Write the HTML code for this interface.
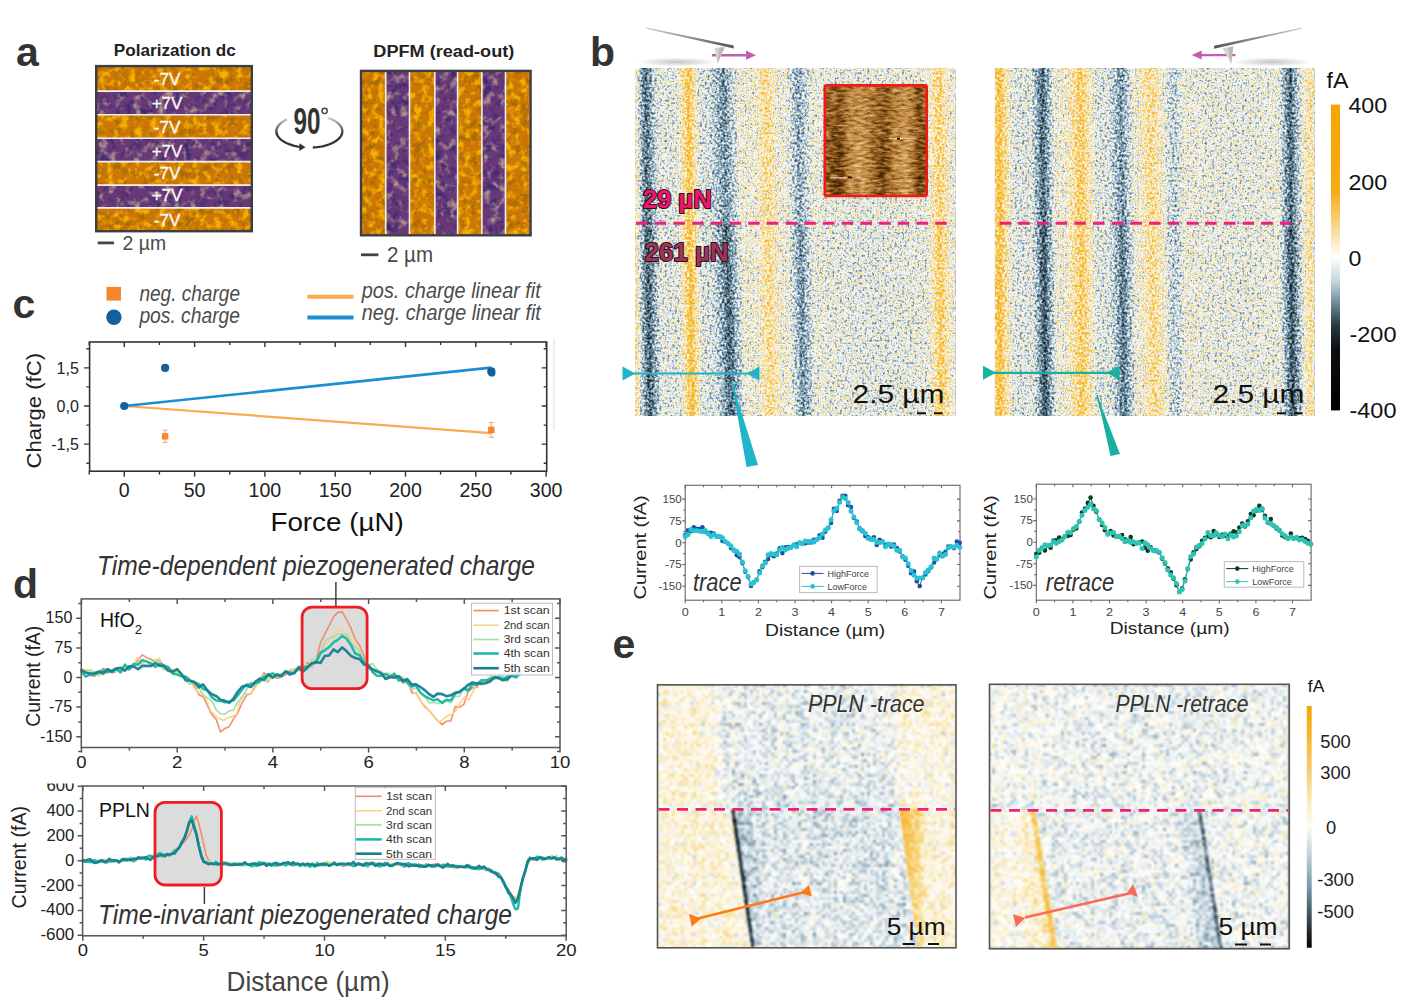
<!DOCTYPE html>
<html><head><meta charset="utf-8"><title>Figure</title>
<style>
html,body{margin:0;padding:0;background:#fff;}
body{width:1409px;height:1008px;overflow:hidden;}
svg{display:block;font-family:"Liberation Sans", sans-serif;}
</style></head><body>
<svg width="1409" height="1008" viewBox="0 0 1409 1008">
<defs>
<filter id="motO" x="0" y="0" width="100%" height="100%" color-interpolation-filters="sRGB">
 <feTurbulence type="fractalNoise" baseFrequency="0.14" numOctaves="4" seed="4" result="t"/>
 <feColorMatrix in="t" type="matrix" values="0 0 0 0 0.97  0 0 0 0 0.69  0 0 0 0 0.0  3.6 0 0 0 -1.68" result="hi"/>
 <feColorMatrix in="t" type="matrix" values="0 0 0 0 0.63  0 0 0 0 0.42  0 0 0 0 0.02  0 3.6 0 0 -1.7" result="lo"/>
 <feMerge><feMergeNode in="lo"/><feMergeNode in="hi"/></feMerge>
</filter>
<filter id="motP" x="0" y="0" width="100%" height="100%" color-interpolation-filters="sRGB">
 <feTurbulence type="fractalNoise" baseFrequency="0.12" numOctaves="4" seed="9" result="t"/>
 <feColorMatrix in="t" type="matrix" values="0 0 0 0 0.68  0 0 0 0 0.57  0 0 0 0 0.56  3.4 0 0 0 -1.72" result="hi"/>
 <feColorMatrix in="t" type="matrix" values="0 0 0 0 0.24  0 0 0 0 0.16  0 0 0 0 0.44  0 3.4 0 0 -1.62" result="lo"/>
 <feMerge><feMergeNode in="lo"/><feMergeNode in="hi"/></feMerge>
</filter>
<linearGradient id="arcg" gradientUnits="userSpaceOnUse" x1="0" y1="116" x2="0" y2="134">
<stop offset="0" stop-color="#333" stop-opacity="0.15"/><stop offset="1" stop-color="#333" stop-opacity="1"/></linearGradient>
<filter id="fldB" x="0" y="0" width="100%" height="100%" color-interpolation-filters="sRGB">
 <feTurbulence type="fractalNoise" baseFrequency="0.4" numOctaves="2" seed="3" result="t"/>
 <feColorMatrix in="t" type="matrix" values="1 0 0 0 0  1 0 0 0 0  1 0 0 0 0  0 0 0 0 1" result="tg"/>
 <feComposite in="SourceGraphic" in2="tg" operator="arithmetic" k1="0" k2="1" k3="0.52" k4="-0.2600" result="v"/>
 <feComponentTransfer in="v"><feFuncR type="table" tableValues="0.000 0.018 0.037 0.055 0.076 0.110 0.145 0.179 0.242 0.306 0.379 0.463 0.551 0.663 0.775 0.880 0.984 0.982 0.980 0.977 0.973 0.970 0.968 0.965 0.964 0.964 0.963 0.963 0.963 0.962 0.962 0.961 0.961"/><feFuncG type="table" tableValues="0.000 0.027 0.053 0.080 0.110 0.159 0.208 0.257 0.338 0.421 0.504 0.588 0.672 0.756 0.840 0.913 0.984 0.941 0.898 0.853 0.807 0.769 0.732 0.696 0.688 0.682 0.676 0.670 0.664 0.658 0.651 0.645 0.639"/><feFuncB type="table" tableValues="0.000 0.031 0.061 0.092 0.127 0.186 0.245 0.304 0.391 0.480 0.570 0.661 0.748 0.814 0.881 0.924 0.965 0.818 0.672 0.539 0.406 0.307 0.214 0.121 0.105 0.092 0.079 0.066 0.053 0.039 0.026 0.013 0.000"/><feFuncA type="linear" slope="0" intercept="1"/></feComponentTransfer>
 <feGaussianBlur stdDeviation="0.65"/>
</filter>
<linearGradient id="gDark" x1="0" x2="1" y1="0" y2="0">
<stop offset="0" stop-color="#000" stop-opacity="0"/><stop offset="0.3" stop-color="#000" stop-opacity="0.55"/><stop offset="0.5" stop-color="#000" stop-opacity="1.0"/><stop offset="0.7" stop-color="#000" stop-opacity="0.55"/><stop offset="1" stop-color="#000" stop-opacity="0"/></linearGradient>
<linearGradient id="gYel" x1="0" x2="1" y1="0" y2="0">
<stop offset="0" stop-color="#fff" stop-opacity="0"/><stop offset="0.3" stop-color="#fff" stop-opacity="0.55"/><stop offset="0.5" stop-color="#fff" stop-opacity="1.0"/><stop offset="0.7" stop-color="#fff" stop-opacity="0.55"/><stop offset="1" stop-color="#fff" stop-opacity="0"/></linearGradient>
<linearGradient id="gBlu" x1="0" x2="1" y1="0" y2="0">
<stop offset="0" stop-color="#000" stop-opacity="0"/><stop offset="0.3" stop-color="#000" stop-opacity="0.8"/><stop offset="0.5" stop-color="#000" stop-opacity="1.0"/><stop offset="0.7" stop-color="#000" stop-opacity="0.8"/><stop offset="1" stop-color="#000" stop-opacity="0"/></linearGradient>
<radialGradient id="shad" cx="0.5" cy="0.5" r="0.5"><stop offset="0" stop-color="#aaa" stop-opacity="0.7"/><stop offset="0.6" stop-color="#bbb" stop-opacity="0.35"/><stop offset="1" stop-color="#ccc" stop-opacity="0"/></radialGradient>
<linearGradient id="cant" x1="0" y1="0" x2="1" y2="0"><stop offset="0" stop-color="#ccc"/><stop offset="1" stop-color="#555"/></linearGradient>
<linearGradient id="cantR" x1="1" y1="0" x2="0" y2="0"><stop offset="0" stop-color="#ccc"/><stop offset="1" stop-color="#555"/></linearGradient>
<clipPath id="cTr"><rect x="635.0" y="68.0" width="320.29999999999995" height="348.0"/></clipPath>
<clipPath id="cRe"><rect x="994.8" y="68.0" width="319.79999999999995" height="348.0"/></clipPath>
<filter id="fldAFM" x="0" y="0" width="100%" height="100%" color-interpolation-filters="sRGB">
 <feTurbulence type="fractalNoise" baseFrequency="0.13 0.4" numOctaves="3" seed="8" result="t"/>
 <feColorMatrix in="t" type="matrix" values="1 0 0 0 0  1 0 0 0 0  1 0 0 0 0  0 0 0 0 1" result="tg"/>
 <feComposite in="SourceGraphic" in2="tg" operator="arithmetic" k1="0" k2="1" k3="0.7" k4="-0.3500" result="v"/>
 <feComponentTransfer in="v"><feFuncR type="table" tableValues="0.118 0.147 0.176 0.206 0.235 0.265 0.294 0.324 0.353 0.399 0.445 0.491 0.537 0.584 0.624 0.660 0.696 0.731 0.761 0.782 0.802 0.822 0.843 0.862 0.880 0.898 0.916 0.934 0.948 0.961 0.974 0.987 1.000"/><feFuncG type="table" tableValues="0.055 0.074 0.092 0.111 0.129 0.148 0.167 0.185 0.204 0.239 0.273 0.308 0.342 0.377 0.412 0.448 0.484 0.520 0.553 0.581 0.610 0.638 0.667 0.699 0.733 0.768 0.802 0.836 0.865 0.892 0.919 0.946 0.973"/><feFuncB type="table" tableValues="0.000 0.004 0.008 0.012 0.016 0.020 0.024 0.027 0.031 0.053 0.075 0.096 0.118 0.140 0.165 0.195 0.224 0.253 0.283 0.313 0.343 0.373 0.404 0.446 0.497 0.547 0.598 0.649 0.701 0.753 0.805 0.858 0.910"/><feFuncA type="linear" slope="0" intercept="1"/></feComponentTransfer>
 <feGaussianBlur stdDeviation="0.4"/>
</filter>
<linearGradient id="afmg" x1="0" x2="1" y1="0" y2="0">
<stop offset="0" stop-color="#6a6a6a"/><stop offset="0.14" stop-color="#484848"/><stop offset="0.24" stop-color="#8a8a8a"/>
<stop offset="0.36" stop-color="#a0a0a0"/><stop offset="0.47" stop-color="#787878"/><stop offset="0.57" stop-color="#4e4e4e"/>
<stop offset="0.68" stop-color="#828282"/><stop offset="0.8" stop-color="#a2a2a2"/><stop offset="0.93" stop-color="#505050"/><stop offset="1" stop-color="#606060"/></linearGradient>
<linearGradient id="afmv" x1="0" x2="0" y1="0" y2="1">
<stop offset="0" stop-color="#808080" stop-opacity="0.45"/><stop offset="0.45" stop-color="#808080" stop-opacity="0.25"/><stop offset="0.6" stop-color="#808080" stop-opacity="0"/><stop offset="1" stop-color="#808080" stop-opacity="0"/></linearGradient>
<linearGradient id="cbb" x1="0" y1="0" x2="0" y2="1">
<stop offset="0" stop-color="#f5a500"/><stop offset="0.28" stop-color="#f6ab12"/><stop offset="0.4" stop-color="#f9d68a"/><stop offset="0.5" stop-color="#ffffff"/>
<stop offset="0.58" stop-color="#c4d4dc"/><stop offset="0.65" stop-color="#6a8a9a"/><stop offset="0.72" stop-color="#2a3a42"/><stop offset="0.8" stop-color="#0c0e10"/><stop offset="1" stop-color="#000"/></linearGradient>
<filter id="fldE" x="0" y="0" width="100%" height="100%" color-interpolation-filters="sRGB">
 <feTurbulence type="fractalNoise" baseFrequency="0.9" numOctaves="1" seed="17" result="t0"/>
 <feFlood x="658" y="685" width="1" height="1" flood-color="#fff" flood-opacity="1" result="dot"/>
 <feComposite in="dot" in2="dot" operator="over" x="658" y="685" width="3" height="3" result="cellp"/>
 <feTile in="cellp" result="grid"/>
 <feComposite in="t0" in2="grid" operator="in" result="sp"/>
 <feMorphology in="sp" operator="dilate" radius="1.0" result="t"/>
 <feColorMatrix in="t" type="matrix" values="1 0 0 0 0  1 0 0 0 0  1 0 0 0 0  0 0 0 0 1" result="tg"/>
 <feComposite in="SourceGraphic" in2="tg" operator="arithmetic" k1="0" k2="1" k3="0.5" k4="-0.2500" result="v"/>
 <feComponentTransfer in="v"><feFuncR type="table" tableValues="0.000 0.013 0.027 0.040 0.053 0.066 0.080 0.093 0.109 0.129 0.150 0.171 0.192 0.213 0.234 0.269 0.306 0.343 0.379 0.416 0.453 0.496 0.545 0.594 0.643 0.692 0.742 0.794 0.845 0.893 0.929 0.964 1.000 0.998 0.995 0.993 0.989 0.986 0.982 0.979 0.976 0.975 0.975 0.974 0.973 0.972 0.971 0.970 0.969 0.967 0.966 0.965 0.964 0.964 0.964 0.964 0.963 0.963 0.963 0.962 0.962 0.962 0.961 0.961 0.961"/><feFuncG type="table" tableValues="0.000 0.017 0.035 0.052 0.069 0.087 0.104 0.122 0.142 0.167 0.193 0.219 0.245 0.270 0.296 0.340 0.385 0.430 0.476 0.521 0.566 0.610 0.651 0.692 0.734 0.775 0.815 0.851 0.888 0.923 0.949 0.974 1.000 0.989 0.978 0.967 0.952 0.936 0.921 0.905 0.888 0.870 0.851 0.833 0.815 0.797 0.782 0.768 0.753 0.738 0.724 0.709 0.702 0.697 0.691 0.686 0.681 0.676 0.670 0.665 0.660 0.655 0.650 0.644 0.639"/><feFuncB type="table" tableValues="0.000 0.020 0.041 0.061 0.082 0.102 0.123 0.143 0.166 0.194 0.222 0.250 0.279 0.307 0.335 0.382 0.431 0.480 0.529 0.578 0.627 0.670 0.707 0.744 0.780 0.817 0.851 0.880 0.910 0.938 0.958 0.979 1.000 0.964 0.929 0.893 0.846 0.795 0.744 0.693 0.643 0.594 0.545 0.496 0.447 0.400 0.361 0.322 0.282 0.243 0.204 0.165 0.147 0.135 0.123 0.110 0.098 0.086 0.074 0.061 0.049 0.037 0.025 0.012 0.000"/><feFuncA type="linear" slope="0" intercept="1"/></feComponentTransfer>
 <feGaussianBlur stdDeviation="0.8"/>
</filter>
<filter id="fldE2" x="0" y="0" width="100%" height="100%" color-interpolation-filters="sRGB">
 <feTurbulence type="fractalNoise" baseFrequency="0.9" numOctaves="1" seed="19" result="t0"/>
 <feFlood x="990" y="685" width="1" height="1" flood-color="#fff" flood-opacity="1" result="dot"/>
 <feComposite in="dot" in2="dot" operator="over" x="990" y="685" width="3" height="3" result="cellp"/>
 <feTile in="cellp" result="grid"/>
 <feComposite in="t0" in2="grid" operator="in" result="sp"/>
 <feMorphology in="sp" operator="dilate" radius="1.0" result="t"/>
 <feColorMatrix in="t" type="matrix" values="1 0 0 0 0  1 0 0 0 0  1 0 0 0 0  0 0 0 0 1" result="tg"/>
 <feComposite in="SourceGraphic" in2="tg" operator="arithmetic" k1="0" k2="1" k3="0.5" k4="-0.2500" result="v"/>
 <feComponentTransfer in="v"><feFuncR type="table" tableValues="0.000 0.013 0.027 0.040 0.053 0.066 0.080 0.093 0.109 0.129 0.150 0.171 0.192 0.213 0.234 0.269 0.306 0.343 0.379 0.416 0.453 0.496 0.545 0.594 0.643 0.692 0.742 0.794 0.845 0.893 0.929 0.964 1.000 0.998 0.995 0.993 0.989 0.986 0.982 0.979 0.976 0.975 0.975 0.974 0.973 0.972 0.971 0.970 0.969 0.967 0.966 0.965 0.964 0.964 0.964 0.964 0.963 0.963 0.963 0.962 0.962 0.962 0.961 0.961 0.961"/><feFuncG type="table" tableValues="0.000 0.017 0.035 0.052 0.069 0.087 0.104 0.122 0.142 0.167 0.193 0.219 0.245 0.270 0.296 0.340 0.385 0.430 0.476 0.521 0.566 0.610 0.651 0.692 0.734 0.775 0.815 0.851 0.888 0.923 0.949 0.974 1.000 0.989 0.978 0.967 0.952 0.936 0.921 0.905 0.888 0.870 0.851 0.833 0.815 0.797 0.782 0.768 0.753 0.738 0.724 0.709 0.702 0.697 0.691 0.686 0.681 0.676 0.670 0.665 0.660 0.655 0.650 0.644 0.639"/><feFuncB type="table" tableValues="0.000 0.020 0.041 0.061 0.082 0.102 0.123 0.143 0.166 0.194 0.222 0.250 0.279 0.307 0.335 0.382 0.431 0.480 0.529 0.578 0.627 0.670 0.707 0.744 0.780 0.817 0.851 0.880 0.910 0.938 0.958 0.979 1.000 0.964 0.929 0.893 0.846 0.795 0.744 0.693 0.643 0.594 0.545 0.496 0.447 0.400 0.361 0.322 0.282 0.243 0.204 0.165 0.147 0.135 0.123 0.110 0.098 0.086 0.074 0.061 0.049 0.037 0.025 0.012 0.000"/><feFuncA type="linear" slope="0" intercept="1"/></feComponentTransfer>
 <feGaussianBlur stdDeviation="0.8"/>
</filter>
<clipPath id="cE1"><rect x="657.5" y="684.8" width="298.5" height="263.0"/></clipPath>
<linearGradient id="e1a" x1="0" x2="1" y1="0" y2="0"><stop offset="0" stop-color="#8c8c8c" stop-opacity="1"/><stop offset="1" stop-color="#787878" stop-opacity="1"/></linearGradient>
<linearGradient id="e1b" x1="0" x2="1" y1="0" y2="0"><stop offset="0" stop-color="#787878" stop-opacity="1"/><stop offset="1" stop-color="#888888" stop-opacity="1"/></linearGradient>
<linearGradient id="e1sh" x1="0" x2="1" y1="0" y2="0"><stop offset="0" stop-color="#616161" stop-opacity="1"/><stop offset="1" stop-color="#747474" stop-opacity="1"/></linearGradient>
<linearGradient id="e1or" x1="0" x2="1" y1="0" y2="0"><stop offset="0" stop-color="#cccccc" stop-opacity="1"/><stop offset="1" stop-color="#949494" stop-opacity="1"/></linearGradient>
<linearGradient id="e1bt" x1="0" x2="1" y1="0" y2="0"><stop offset="0" stop-color="#666666" stop-opacity="1"/><stop offset="1" stop-color="#6e6e6e" stop-opacity="0"/></linearGradient>
<clipPath id="cE2"><rect x="989.5" y="684.3" width="299.79999999999995" height="264.5"/></clipPath>
<linearGradient id="e2yw" x1="0" x2="1" y1="0" y2="0"><stop offset="0" stop-color="#878787" stop-opacity="1"/><stop offset="1" stop-color="#999999" stop-opacity="1"/></linearGradient>
<linearGradient id="e2bs" x1="0" x2="1" y1="0" y2="0"><stop offset="0" stop-color="#777777" stop-opacity="1"/><stop offset="1" stop-color="#636363" stop-opacity="1"/></linearGradient>
<linearGradient id="e2u" x1="0" x2="1" y1="0" y2="0"><stop offset="0" stop-color="#7e7e7e" stop-opacity="1"/><stop offset="1" stop-color="#7a7a7a" stop-opacity="1"/></linearGradient>
<linearGradient id="cbe" x1="0" y1="0" x2="0" y2="1">
<stop offset="0" stop-color="#f5a500"/><stop offset="0.25" stop-color="#f8c868"/><stop offset="0.4" stop-color="#f8ecc0"/><stop offset="0.5" stop-color="#fbfbf8"/>
<stop offset="0.6" stop-color="#c8d6dc"/><stop offset="0.75" stop-color="#7898a8"/><stop offset="0.88" stop-color="#3a4a54"/><stop offset="1" stop-color="#000"/></linearGradient>
</defs>
<rect width="1409" height="1008" fill="#fff"/>
<text x="16.0" y="66.0" font-size="41" fill="#333" font-weight="bold" font-style="normal" text-anchor="start" >a</text>
<text x="590.0" y="66.0" font-size="41" fill="#333" font-weight="bold" font-style="normal" text-anchor="start" >b</text>
<text x="12.5" y="318.3" font-size="41" fill="#333" font-weight="bold" font-style="normal" text-anchor="start" >c</text>
<text x="13.0" y="598.0" font-size="41" fill="#333" font-weight="bold" font-style="normal" text-anchor="start" >d</text>
<text x="612.5" y="658.0" font-size="41" fill="#333" font-weight="bold" font-style="normal" text-anchor="start" >e</text>
<g>
<rect x="97.0" y="67.0" width="154.0" height="24.1" fill="#cc7606"/>
<rect x="97.0" y="67.0" width="154.0" height="24.1" filter="url(#motO)"/>
<rect x="97.0" y="91.1" width="154.0" height="23.7" fill="#683878"/>
<rect x="97.0" y="91.1" width="154.0" height="23.7" filter="url(#motP)"/>
<rect x="97.0" y="114.8" width="154.0" height="23.5" fill="#cc7606"/>
<rect x="97.0" y="114.8" width="154.0" height="23.5" filter="url(#motO)"/>
<rect x="97.0" y="138.3" width="154.0" height="23.3" fill="#683878"/>
<rect x="97.0" y="138.3" width="154.0" height="23.3" filter="url(#motP)"/>
<rect x="97.0" y="161.6" width="154.0" height="23.5" fill="#cc7606"/>
<rect x="97.0" y="161.6" width="154.0" height="23.5" filter="url(#motO)"/>
<rect x="97.0" y="185.1" width="154.0" height="22.8" fill="#683878"/>
<rect x="97.0" y="185.1" width="154.0" height="22.8" filter="url(#motP)"/>
<rect x="97.0" y="207.9" width="154.0" height="22.6" fill="#cc7606"/>
<rect x="97.0" y="207.9" width="154.0" height="22.6" filter="url(#motO)"/>
<line x1="97.0" x2="251.0" y1="91.1" y2="91.1" stroke="#f4f0ee" stroke-width="1.6"/>
<line x1="97.0" x2="251.0" y1="114.8" y2="114.8" stroke="#f4f0ee" stroke-width="1.6"/>
<line x1="97.0" x2="251.0" y1="138.3" y2="138.3" stroke="#f4f0ee" stroke-width="1.6"/>
<line x1="97.0" x2="251.0" y1="161.6" y2="161.6" stroke="#f4f0ee" stroke-width="1.6"/>
<line x1="97.0" x2="251.0" y1="185.1" y2="185.1" stroke="#f4f0ee" stroke-width="1.6"/>
<line x1="97.0" x2="251.0" y1="207.9" y2="207.9" stroke="#f4f0ee" stroke-width="1.6"/>
</g>
<rect x="96.2" y="66.1" width="155.6" height="165.1" fill="none" stroke="#3b3e42" stroke-width="2.4"/>
<text x="167.0" y="84.7" font-size="17" fill="#fbf7f2" font-weight="normal" font-style="normal" text-anchor="middle" stroke="#fbf7f2" stroke-width="0.35">-7V</text>
<text x="167.0" y="108.7" font-size="17" fill="#fbf7f2" font-weight="normal" font-style="normal" text-anchor="middle" stroke="#fbf7f2" stroke-width="0.35">+7V</text>
<text x="167.0" y="132.6" font-size="17" fill="#fbf7f2" font-weight="normal" font-style="normal" text-anchor="middle" stroke="#fbf7f2" stroke-width="0.35">-7V</text>
<text x="167.0" y="156.6" font-size="17" fill="#fbf7f2" font-weight="normal" font-style="normal" text-anchor="middle" stroke="#fbf7f2" stroke-width="0.35">+7V</text>
<text x="167.0" y="179.4" font-size="17" fill="#fbf7f2" font-weight="normal" font-style="normal" text-anchor="middle" stroke="#fbf7f2" stroke-width="0.35">-7V</text>
<text x="167.0" y="201.0" font-size="17" fill="#fbf7f2" font-weight="normal" font-style="normal" text-anchor="middle" stroke="#fbf7f2" stroke-width="0.35">+7V</text>
<text x="167.0" y="226.1" font-size="17" fill="#fbf7f2" font-weight="normal" font-style="normal" text-anchor="middle" stroke="#fbf7f2" stroke-width="0.35">-7V</text>
<rect x="361.8" y="71.8" width="23.9" height="162.8" fill="#cc7606"/>
<rect x="361.8" y="71.8" width="23.9" height="162.8" filter="url(#motO)"/>
<rect x="385.7" y="71.8" width="23.8" height="162.8" fill="#683878"/>
<rect x="385.7" y="71.8" width="23.8" height="162.8" filter="url(#motP)"/>
<rect x="409.5" y="71.8" width="25.3" height="162.8" fill="#cc7606"/>
<rect x="409.5" y="71.8" width="25.3" height="162.8" filter="url(#motO)"/>
<rect x="434.8" y="71.8" width="22.8" height="162.8" fill="#683878"/>
<rect x="434.8" y="71.8" width="22.8" height="162.8" filter="url(#motP)"/>
<rect x="457.6" y="71.8" width="24.3" height="162.8" fill="#cc7606"/>
<rect x="457.6" y="71.8" width="24.3" height="162.8" filter="url(#motO)"/>
<rect x="481.9" y="71.8" width="23.6" height="162.8" fill="#683878"/>
<rect x="481.9" y="71.8" width="23.6" height="162.8" filter="url(#motP)"/>
<rect x="505.5" y="71.8" width="24.3" height="162.8" fill="#cc7606"/>
<rect x="505.5" y="71.8" width="24.3" height="162.8" filter="url(#motO)"/>
<line y1="71.8" y2="234.6" x1="385.7" x2="385.7" stroke="#f4f0ee" stroke-width="1.6"/>
<line y1="71.8" y2="234.6" x1="409.5" x2="409.5" stroke="#f4f0ee" stroke-width="1.6"/>
<line y1="71.8" y2="234.6" x1="434.8" x2="434.8" stroke="#f4f0ee" stroke-width="1.6"/>
<line y1="71.8" y2="234.6" x1="457.6" x2="457.6" stroke="#f4f0ee" stroke-width="1.6"/>
<line y1="71.8" y2="234.6" x1="481.9" x2="481.9" stroke="#f4f0ee" stroke-width="1.6"/>
<line y1="71.8" y2="234.6" x1="505.5" x2="505.5" stroke="#f4f0ee" stroke-width="1.6"/>
<rect x="361.0" y="70.89999999999999" width="169.59999999999994" height="164.4" fill="none" stroke="#3b3e42" stroke-width="2.4"/>
<text x="113.8" y="55.8" font-size="17" fill="#222" font-weight="bold" font-style="normal" text-anchor="start" textLength="122" lengthAdjust="spacingAndGlyphs" >Polarization dc</text>
<text x="373.3" y="57.3" font-size="17.4" fill="#222" font-weight="bold" font-style="normal" text-anchor="start" textLength="141" lengthAdjust="spacingAndGlyphs" >DPFM (read-out)</text>
<rect x="97.7" y="241.5" width="16.3" height="2.8" fill="#444"/>
<text x="122.6" y="249.6" font-size="20.5" fill="#4a4a4a" font-weight="normal" font-style="normal" text-anchor="start" textLength="43.5" lengthAdjust="spacingAndGlyphs" >2 µm</text>
<rect x="361" y="253.4" width="17.4" height="2.8" fill="#444"/>
<text x="387.0" y="261.9" font-size="21.5" fill="#4a4a4a" font-weight="normal" font-style="normal" text-anchor="start" textLength="46" lengthAdjust="spacingAndGlyphs" >2 µm</text>
<path d="M286.84,119.38 L285.55,120.01 L284.33,120.67 L283.19,121.37 L282.12,122.09 L281.14,122.84 L280.24,123.62 L279.43,124.42 L278.71,125.25 L278.08,126.09 L277.55,126.94 L277.11,127.81 L276.77,128.69 L276.53,129.58 L276.39,130.48 L276.35,131.37 L276.41,132.27 L276.57,133.16 L276.82,134.05 L277.18,134.93 L277.63,135.79 L278.18,136.65 L278.82,137.49 L279.55,138.30 L280.38,139.10 L281.29,139.88 L282.28,140.63 L283.36,141.35 L284.52,142.04 L285.75,142.69 L287.06,143.32 L288.43,143.90 L289.86,144.45 L291.35,144.96 L292.90,145.43 L294.50,145.86 L296.14,146.24 L297.82,146.57 L299.54,146.86 L301.28,147.11 L303.05,147.30" fill="none" stroke="url(#arcg)" stroke-width="2.3"/>
<path d="M312.80,147.51 L314.78,147.38 L316.75,147.19 L318.68,146.93 L320.58,146.63 L322.44,146.26 L324.25,145.84 L326.01,145.37 L327.71,144.85 L329.34,144.27 L330.89,143.65 L332.37,142.98 L333.76,142.27 L335.06,141.52 L336.27,140.73 L337.37,139.91 L338.38,139.05 L339.28,138.17 L340.06,137.26 L340.74,136.33 L341.30,135.38 L341.74,134.42 L342.06,133.44 L342.27,132.46 L342.35,131.47 L342.31,130.48 L342.15,129.50 L341.87,128.52 L341.46,127.55 L340.95,126.60 L340.31,125.66 L339.56,124.74 L338.70,123.85 L337.73,122.98 L336.66,122.15 L335.49,121.35 L334.22,120.58 L332.86,119.86 L331.41,119.18 L329.88,118.54 L328.28,117.95" fill="none" stroke="url(#arcg)" stroke-width="2.3"/>
<path d="M299.5,143.2 L305.5,147.2 L299.2,151.0 Z" fill="#333"/>
<text x="293.5" y="134.0" font-size="37" fill="#333" font-weight="bold" font-style="normal" text-anchor="start" textLength="27" lengthAdjust="spacingAndGlyphs" >90</text>
<circle cx="324.6" cy="110.9" r="2.6" fill="none" stroke="#444" stroke-width="1.4"/>
<ellipse cx="677.0" cy="62" rx="41.0" ry="4.6" fill="url(#shad)"/>
<path d="M712,55.2 H748" stroke="#c45cb4" stroke-width="2.4"/><path d="M746.0,50.6 L756,55.2 L746.0,59.8 Z" fill="#c45cb4"/>
<path d="M646.2,27.6 L733.7,45.6 L733.7,48.6 L646.2,28.8 Z" fill="url(#cant)"/>
<path d="M714.5,47.8 L724.7,47.2 L717.5,63.8 Z" fill="#d4d4d4"/>
<path d="M719.6,47.6 L724.7,47.2 L717.5,63.8 Z" fill="#b8b8b8"/>
<ellipse cx="1272" cy="62" rx="40" ry="4.6" fill="url(#shad)"/>
<path d="M1235.4,55.1 H1199" stroke="#c45cb4" stroke-width="2.4"/><path d="M1201.7,50.6 L1191.7,55.1 L1201.7,59.6 Z" fill="#c45cb4"/>
<path d="M1301.9,27.6 L1214.1,45.8 L1214.1,48.8 L1301.9,28.8 Z" fill="url(#cantR)"/>
<path d="M1222.6,48.2 L1233.2,46.6 L1231.1,63.7 Z" fill="#d4d4d4"/><path d="M1228,47.4 L1233.2,46.6 L1231.1,63.7 Z" fill="#b8b8b8"/>
<g clip-path="url(#cTr)"><g filter="url(#fldB)">
<rect x="635.0" y="68.0" width="320.29999999999995" height="348.0" fill="#808080"/>
<rect x="630.5" y="68.0" width="12.0" height="155.2" fill="url(#gYel)" opacity="0.133" transform="translate(0 145.6) skewX(0.369) translate(0 -145.6)"/>
<rect x="634.5" y="68.0" width="24.0" height="155.2" fill="url(#gDark)" opacity="0.429" transform="translate(0 145.6) skewX(0.738) translate(0 -145.6)"/>
<rect x="643.5" y="68.0" width="48.0" height="155.2" fill="url(#gBlu)" opacity="0.060" transform="translate(0 145.6) skewX(0.369) translate(0 -145.6)"/>
<rect x="677.8" y="68.0" width="22.0" height="155.2" fill="url(#gYel)" opacity="0.323" transform="translate(0 145.6) skewX(0.554) translate(0 -145.6)"/>
<rect x="691.5" y="68.0" width="32.0" height="155.2" fill="url(#gBlu)" opacity="0.090" transform="translate(0 145.6) skewX(0.369) translate(0 -145.6)"/>
<rect x="709.5" y="68.0" width="30.0" height="155.2" fill="url(#gDark)" opacity="0.341" transform="translate(0 145.6) skewX(1.107) translate(0 -145.6)"/>
<rect x="754.8" y="68.0" width="24.0" height="155.2" fill="url(#gYel)" opacity="0.190" transform="translate(0 145.6) skewX(0.923) translate(0 -145.6)"/>
<rect x="786.0" y="68.0" width="26.0" height="155.2" fill="url(#gDark)" opacity="0.264" transform="translate(0 145.6) skewX(0.738) translate(0 -145.6)"/>
<rect x="785.0" y="68.0" width="160.0" height="155.2" fill="url(#gBlu)" opacity="0.045" transform="translate(0 145.6) skewX(3.687) translate(0 -145.6)"/>
<rect x="927.0" y="68.0" width="24.0" height="155.2" fill="url(#gYel)" opacity="0.236" transform="translate(0 145.6) skewX(0.369) translate(0 -145.6)"/>
<rect x="630.5" y="223.2" width="12.0" height="192.8" fill="url(#gYel)" opacity="0.133" transform="translate(0 319.6) skewX(0.297) translate(0 -319.6)"/>
<rect x="636.8" y="223.2" width="24.0" height="192.8" fill="url(#gDark)" opacity="0.484" transform="translate(0 319.6) skewX(0.743) translate(0 -319.6)"/>
<rect x="645.0" y="223.2" width="48.0" height="192.8" fill="url(#gBlu)" opacity="0.060" transform="translate(0 319.6) skewX(0.594) translate(0 -319.6)"/>
<rect x="679.8" y="223.2" width="22.0" height="192.8" fill="url(#gYel)" opacity="0.350" transform="translate(0 319.6) skewX(0.743) translate(0 -319.6)"/>
<rect x="693.5" y="223.2" width="32.0" height="192.8" fill="url(#gBlu)" opacity="0.090" transform="translate(0 319.6) skewX(0.891) translate(0 -319.6)"/>
<rect x="713.8" y="223.2" width="30.0" height="192.8" fill="url(#gDark)" opacity="0.468" transform="translate(0 319.6) skewX(1.634) translate(0 -319.6)"/>
<rect x="757.5" y="223.2" width="24.0" height="192.8" fill="url(#gYel)" opacity="0.190" transform="translate(0 319.6) skewX(0.891) translate(0 -319.6)"/>
<rect x="789.0" y="223.2" width="26.0" height="192.8" fill="url(#gDark)" opacity="0.330" transform="translate(0 319.6) skewX(1.189) translate(0 -319.6)"/>
<rect x="795.0" y="223.2" width="160.0" height="192.8" fill="url(#gBlu)" opacity="0.060" transform="translate(0 319.6) skewX(2.969) translate(0 -319.6)"/>
<rect x="928.5" y="223.2" width="24.0" height="192.8" fill="url(#gYel)" opacity="0.285" transform="translate(0 319.6) skewX(0.594) translate(0 -319.6)"/>
</g></g>
<g clip-path="url(#cRe)"><g filter="url(#fldB)">
<rect x="994.8" y="68.0" width="319.79999999999995" height="348.0" fill="#808080"/>
<rect x="985.5" y="68.0" width="28.0" height="155.2" fill="url(#gYel)" opacity="0.342" transform="translate(0 145.6) skewX(0.369) translate(0 -145.6)"/>
<rect x="1000.5" y="68.0" width="40.0" height="155.2" fill="url(#gBlu)" opacity="0.075" transform="translate(0 145.6) skewX(0.369) translate(0 -145.6)"/>
<rect x="1030.8" y="68.0" width="24.0" height="155.2" fill="url(#gDark)" opacity="0.468" transform="translate(0 145.6) skewX(0.554) translate(0 -145.6)"/>
<rect x="1064.5" y="68.0" width="32.0" height="155.2" fill="url(#gYel)" opacity="0.266" transform="translate(0 145.6) skewX(0.369) translate(0 -145.6)"/>
<rect x="1086.5" y="68.0" width="32.0" height="155.2" fill="url(#gBlu)" opacity="0.075" transform="translate(0 145.6) skewX(0.369) translate(0 -145.6)"/>
<rect x="1108.2" y="68.0" width="26.0" height="155.2" fill="url(#gDark)" opacity="0.330" transform="translate(0 145.6) skewX(0.554) translate(0 -145.6)"/>
<rect x="1137.0" y="68.0" width="28.0" height="155.2" fill="url(#gYel)" opacity="0.190" transform="translate(0 145.6) skewX(0.738) translate(0 -145.6)"/>
<rect x="1163.5" y="68.0" width="20.0" height="155.2" fill="url(#gBlu)" opacity="0.135" transform="translate(0 145.6) skewX(0.369) translate(0 -145.6)"/>
<rect x="1172.5" y="68.0" width="120.0" height="155.2" fill="url(#gBlu)" opacity="0.045" transform="translate(0 145.6) skewX(1.845) translate(0 -145.6)"/>
<rect x="1278.5" y="68.0" width="24.0" height="155.2" fill="url(#gDark)" opacity="0.468" transform="translate(0 145.6) skewX(0.369) translate(0 -145.6)"/>
<rect x="1303.0" y="68.0" width="16.0" height="155.2" fill="url(#gYel)" opacity="0.152" transform="translate(0 145.6) skewX(0.000) translate(0 -145.6)"/>
<rect x="985.5" y="223.2" width="28.0" height="192.8" fill="url(#gYel)" opacity="0.342" transform="translate(0 319.6) skewX(0.297) translate(0 -319.6)"/>
<rect x="1001.5" y="223.2" width="40.0" height="192.8" fill="url(#gBlu)" opacity="0.075" transform="translate(0 319.6) skewX(0.297) translate(0 -319.6)"/>
<rect x="1032.5" y="223.2" width="24.0" height="192.8" fill="url(#gDark)" opacity="0.522" transform="translate(0 319.6) skewX(0.594) translate(0 -319.6)"/>
<rect x="1065.5" y="223.2" width="32.0" height="192.8" fill="url(#gYel)" opacity="0.266" transform="translate(0 319.6) skewX(0.297) translate(0 -319.6)"/>
<rect x="1087.5" y="223.2" width="32.0" height="192.8" fill="url(#gBlu)" opacity="0.075" transform="translate(0 319.6) skewX(0.297) translate(0 -319.6)"/>
<rect x="1110.0" y="223.2" width="26.0" height="192.8" fill="url(#gDark)" opacity="0.413" transform="translate(0 319.6) skewX(0.594) translate(0 -319.6)"/>
<rect x="1139.5" y="223.2" width="28.0" height="192.8" fill="url(#gYel)" opacity="0.190" transform="translate(0 319.6) skewX(0.891) translate(0 -319.6)"/>
<rect x="1165.0" y="223.2" width="20.0" height="192.8" fill="url(#gBlu)" opacity="0.150" transform="translate(0 319.6) skewX(0.594) translate(0 -319.6)"/>
<rect x="1177.5" y="223.2" width="120.0" height="192.8" fill="url(#gBlu)" opacity="0.045" transform="translate(0 319.6) skewX(1.486) translate(0 -319.6)"/>
<rect x="1280.0" y="223.2" width="24.0" height="192.8" fill="url(#gDark)" opacity="0.522" transform="translate(0 319.6) skewX(0.594) translate(0 -319.6)"/>
<rect x="1303.0" y="223.2" width="16.0" height="192.8" fill="url(#gYel)" opacity="0.152" transform="translate(0 319.6) skewX(0.000) translate(0 -319.6)"/>
</g></g>
<g filter="url(#fldAFM)"><rect x="825" y="85.5" width="101.5" height="110.5" fill="url(#afmg)"/><rect x="825" y="85.5" width="101.5" height="110.5" fill="url(#afmv)"/></g>
<path d="M889,138.3 h28 M830,177.7 h17" stroke="#f8ecd4" stroke-width="1.1" opacity="0.9"/><path d="M897,138.6 h3 M848,177.5 h4" stroke="#201000" stroke-width="1.6"/>
<rect x="824.8" y="85.4" width="101.9" height="110.6" rx="2" fill="none" stroke="#f21818" stroke-width="2.6"/>
<line x1="636" x2="951" y1="223.2" y2="223.2" stroke="#ee1f7d" stroke-width="3" stroke-dasharray="11.5 7.2"/>
<line x1="999.5" x2="1300" y1="223.2" y2="223.2" stroke="#ee1f7d" stroke-width="3" stroke-dasharray="11.5 7.2"/>
<text x="642.7" y="207.6" font-size="25" fill="#f0166c" font-weight="bold" font-style="normal" text-anchor="start" textLength="69" lengthAdjust="spacingAndGlyphs" stroke="#2a1018" stroke-width="2" paint-order="stroke" stroke-linejoin="round">29 µN</text>
<text x="644.5" y="261.3" font-size="25" fill="#a2345a" font-weight="bold" font-style="normal" text-anchor="start" textLength="84" lengthAdjust="spacingAndGlyphs" stroke="#2a1018" stroke-width="2" paint-order="stroke" stroke-linejoin="round">261 µN</text>
<text x="852.5" y="402.7" font-size="25" fill="#111" font-weight="normal" font-style="normal" text-anchor="start" textLength="92" lengthAdjust="spacingAndGlyphs" >2.5 µm</text>
<path d="M917,413.3 h9 M934,413.3 h8.6" stroke="#111" stroke-width="2"/>
<text x="1212.5" y="402.7" font-size="25" fill="#111" font-weight="normal" font-style="normal" text-anchor="start" textLength="92" lengthAdjust="spacingAndGlyphs" >2.5 µm</text>
<path d="M1277,413.3 h9 M1294,413.3 h8.6" stroke="#111" stroke-width="2"/>
<line x1="626.5" x2="755.5" y1="373.5" y2="373.5" stroke="#1fb4c8" stroke-width="2.2"/>
<path d="M622.5,366.5 L635.5,373.5 L622.5,380.5 Z" fill="#1fb4c8"/>
<path d="M759.5,366.5 L746.5,373.5 L759.5,380.5 Z" fill="#1fb4c8"/>
<path d="M731.5,381 L758,465 L746.5,467 Z" fill="#1fb4c8"/>
<line x1="731.5" y1="381" x2="735.5" y2="396" stroke="#1fb4c8" stroke-width="1.6"/>
<line x1="987" x2="1115.5" y1="372.8" y2="372.8" stroke="#19b0a0" stroke-width="2.2"/>
<path d="M983,365.8 L996,372.8 L983,379.8 Z" fill="#19b0a0"/>
<path d="M1119.5,365.8 L1106.5,372.8 L1119.5,379.8 Z" fill="#19b0a0"/>
<path d="M1097,395 L1120,454 L1110.5,456 Z" fill="#19b0a0"/>
<line x1="1097" y1="395" x2="1101" y2="410" stroke="#19b0a0" stroke-width="1.6"/>
<rect x="1331" y="104.6" width="9" height="305.8" fill="url(#cbb)"/>
<text x="1326.5" y="88.0" font-size="21.5" fill="#111" font-weight="normal" font-style="normal" text-anchor="start" textLength="22" lengthAdjust="spacingAndGlyphs" >fA</text>
<text x="1348.4" y="113.2" font-size="22.5" fill="#111" font-weight="normal" font-style="normal" text-anchor="start" textLength="38.7" lengthAdjust="spacingAndGlyphs" >400</text>
<text x="1348.4" y="189.7" font-size="22.5" fill="#111" font-weight="normal" font-style="normal" text-anchor="start" textLength="38.7" lengthAdjust="spacingAndGlyphs" >200</text>
<text x="1348.4" y="265.7" font-size="22.5" fill="#111" font-weight="normal" font-style="normal" text-anchor="start" textLength="12.9" lengthAdjust="spacingAndGlyphs" >0</text>
<text x="1349.5" y="342.2" font-size="22.5" fill="#111" font-weight="normal" font-style="normal" text-anchor="start" textLength="47.0" lengthAdjust="spacingAndGlyphs" >-200</text>
<text x="1349.5" y="418.2" font-size="22.5" fill="#111" font-weight="normal" font-style="normal" text-anchor="start" textLength="47.0" lengthAdjust="spacingAndGlyphs" >-400</text>
<rect x="685.2" y="485.3" width="274.79999999999995" height="114.90000000000003" fill="#fff"/>
<rect x="685.2" y="485.3" width="274.79999999999995" height="114.90000000000003" fill="none" stroke="#666" stroke-width="1.1"/>
<path d="M685.20,600.20v3M685.20,485.30v3M721.80,600.20v3M721.80,485.30v3M758.40,600.20v3M758.40,485.30v3M795.00,600.20v3M795.00,485.30v3M831.60,600.20v3M831.60,485.30v3M868.20,600.20v3M868.20,485.30v3M904.80,600.20v3M904.80,485.30v3M941.40,600.20v3M941.40,485.30v3M703.50,600.20v2M703.50,485.30v2M740.10,600.20v2M740.10,485.30v2M776.70,600.20v2M776.70,485.30v2M813.30,600.20v2M813.30,485.30v2M849.90,600.20v2M849.90,485.30v2M886.50,600.20v2M886.50,485.30v2M923.10,600.20v2M923.10,485.30v2M685.20,586.31h-3M960.00,586.31h-3M685.20,564.50h-3M960.00,564.50h-3M685.20,542.70h-3M960.00,542.70h-3M685.20,520.90h-3M960.00,520.90h-3M685.20,499.10h-3M960.00,499.10h-3M685.20,575.40h-2M960.00,575.40h-2M685.20,553.60h-2M960.00,553.60h-2M685.20,531.80h-2M960.00,531.80h-2M685.20,510.00h-2M960.00,510.00h-2" stroke="#666" stroke-width="1.1" fill="none"/>
<polyline points="685.2,535.3 688.1,530.4 690.9,531.1 693.8,527.4 696.6,528.8 699.5,529.1 702.4,527.2 705.2,531.6 708.1,532.8 710.9,532.7 713.8,533.5 716.7,536.5 719.5,536.6 722.4,541.0 725.2,541.8 728.1,543.8 731.0,548.0 733.8,550.5 736.7,555.1 739.5,557.1 742.4,563.3 745.2,571.7 748.1,577.1 751.0,586.0 753.8,582.4 756.7,579.9 759.5,571.3 762.4,567.0 765.3,561.7 768.1,559.0 771.0,554.7 773.8,556.2 776.7,553.5 779.6,548.4 782.4,553.1 785.3,547.4 788.1,547.1 791.0,547.1 793.9,545.1 796.7,544.4 799.6,542.7 802.4,543.8 805.3,543.3 808.2,542.5 811.0,542.5 813.9,539.8 816.7,539.5 819.6,535.4 822.5,537.8 825.3,531.8 828.2,527.9 831.0,523.0 833.9,508.7 836.7,510.9 839.6,500.8 842.5,495.7 845.3,495.7 848.2,505.3 851.0,507.0 853.9,517.9 856.8,521.5 859.6,528.3 862.5,531.3 865.3,536.1 868.2,537.2 871.1,538.8 873.9,537.3 876.8,544.9 879.6,539.7 882.5,541.6 885.4,544.7 888.2,544.1 891.1,546.6 893.9,544.6 896.8,548.0 899.7,551.4 902.5,556.3 905.4,559.7 908.2,565.7 911.1,573.2 914.0,571.4 916.8,581.2 919.7,586.1 922.5,577.8 925.4,574.5 928.2,571.1 931.1,567.4 934.0,562.5 936.8,559.1 939.7,555.2 942.5,554.1 945.4,551.9 948.3,546.5 951.1,546.8 954.0,548.1 956.8,541.5 959.7,542.9" fill="none" stroke="#1d4f9e" stroke-width="1.0" stroke-linejoin="round" stroke-linecap="round" opacity="0.9" />
<g fill="#1d4f9e"><circle cx="685.2" cy="535.3" r="2.3"/><circle cx="688.1" cy="530.4" r="2.3"/><circle cx="690.9" cy="531.1" r="2.3"/><circle cx="693.8" cy="527.4" r="2.3"/><circle cx="696.6" cy="528.8" r="2.3"/><circle cx="699.5" cy="529.1" r="2.3"/><circle cx="702.4" cy="527.2" r="2.3"/><circle cx="705.2" cy="531.6" r="2.3"/><circle cx="708.1" cy="532.8" r="2.3"/><circle cx="710.9" cy="532.7" r="2.3"/><circle cx="713.8" cy="533.5" r="2.3"/><circle cx="716.7" cy="536.5" r="2.3"/><circle cx="719.5" cy="536.6" r="2.3"/><circle cx="722.4" cy="541.0" r="2.3"/><circle cx="725.2" cy="541.8" r="2.3"/><circle cx="728.1" cy="543.8" r="2.3"/><circle cx="731.0" cy="548.0" r="2.3"/><circle cx="733.8" cy="550.5" r="2.3"/><circle cx="736.7" cy="555.1" r="2.3"/><circle cx="739.5" cy="557.1" r="2.3"/><circle cx="742.4" cy="563.3" r="2.3"/><circle cx="745.2" cy="571.7" r="2.3"/><circle cx="748.1" cy="577.1" r="2.3"/><circle cx="751.0" cy="586.0" r="2.3"/><circle cx="753.8" cy="582.4" r="2.3"/><circle cx="756.7" cy="579.9" r="2.3"/><circle cx="759.5" cy="571.3" r="2.3"/><circle cx="762.4" cy="567.0" r="2.3"/><circle cx="765.3" cy="561.7" r="2.3"/><circle cx="768.1" cy="559.0" r="2.3"/><circle cx="771.0" cy="554.7" r="2.3"/><circle cx="773.8" cy="556.2" r="2.3"/><circle cx="776.7" cy="553.5" r="2.3"/><circle cx="779.6" cy="548.4" r="2.3"/><circle cx="782.4" cy="553.1" r="2.3"/><circle cx="785.3" cy="547.4" r="2.3"/><circle cx="788.1" cy="547.1" r="2.3"/><circle cx="791.0" cy="547.1" r="2.3"/><circle cx="793.9" cy="545.1" r="2.3"/><circle cx="796.7" cy="544.4" r="2.3"/><circle cx="799.6" cy="542.7" r="2.3"/><circle cx="802.4" cy="543.8" r="2.3"/><circle cx="805.3" cy="543.3" r="2.3"/><circle cx="808.2" cy="542.5" r="2.3"/><circle cx="811.0" cy="542.5" r="2.3"/><circle cx="813.9" cy="539.8" r="2.3"/><circle cx="816.7" cy="539.5" r="2.3"/><circle cx="819.6" cy="535.4" r="2.3"/><circle cx="822.5" cy="537.8" r="2.3"/><circle cx="825.3" cy="531.8" r="2.3"/><circle cx="828.2" cy="527.9" r="2.3"/><circle cx="831.0" cy="523.0" r="2.3"/><circle cx="833.9" cy="508.7" r="2.3"/><circle cx="836.7" cy="510.9" r="2.3"/><circle cx="839.6" cy="500.8" r="2.3"/><circle cx="842.5" cy="495.7" r="2.3"/><circle cx="845.3" cy="495.7" r="2.3"/><circle cx="848.2" cy="505.3" r="2.3"/><circle cx="851.0" cy="507.0" r="2.3"/><circle cx="853.9" cy="517.9" r="2.3"/><circle cx="856.8" cy="521.5" r="2.3"/><circle cx="859.6" cy="528.3" r="2.3"/><circle cx="862.5" cy="531.3" r="2.3"/><circle cx="865.3" cy="536.1" r="2.3"/><circle cx="868.2" cy="537.2" r="2.3"/><circle cx="871.1" cy="538.8" r="2.3"/><circle cx="873.9" cy="537.3" r="2.3"/><circle cx="876.8" cy="544.9" r="2.3"/><circle cx="879.6" cy="539.7" r="2.3"/><circle cx="882.5" cy="541.6" r="2.3"/><circle cx="885.4" cy="544.7" r="2.3"/><circle cx="888.2" cy="544.1" r="2.3"/><circle cx="891.1" cy="546.6" r="2.3"/><circle cx="893.9" cy="544.6" r="2.3"/><circle cx="896.8" cy="548.0" r="2.3"/><circle cx="899.7" cy="551.4" r="2.3"/><circle cx="902.5" cy="556.3" r="2.3"/><circle cx="905.4" cy="559.7" r="2.3"/><circle cx="908.2" cy="565.7" r="2.3"/><circle cx="911.1" cy="573.2" r="2.3"/><circle cx="914.0" cy="571.4" r="2.3"/><circle cx="916.8" cy="581.2" r="2.3"/><circle cx="919.7" cy="586.1" r="2.3"/><circle cx="922.5" cy="577.8" r="2.3"/><circle cx="925.4" cy="574.5" r="2.3"/><circle cx="928.2" cy="571.1" r="2.3"/><circle cx="931.1" cy="567.4" r="2.3"/><circle cx="934.0" cy="562.5" r="2.3"/><circle cx="936.8" cy="559.1" r="2.3"/><circle cx="939.7" cy="555.2" r="2.3"/><circle cx="942.5" cy="554.1" r="2.3"/><circle cx="945.4" cy="551.9" r="2.3"/><circle cx="948.3" cy="546.5" r="2.3"/><circle cx="951.1" cy="546.8" r="2.3"/><circle cx="954.0" cy="548.1" r="2.3"/><circle cx="956.8" cy="541.5" r="2.3"/><circle cx="959.7" cy="542.9" r="2.3"/></g>
<polyline points="685.2,536.6 688.1,534.6 690.9,529.5 693.8,530.8 696.6,530.5 699.5,531.2 702.4,531.4 705.2,530.4 708.1,533.7 710.9,536.5 713.8,534.4 716.7,536.6 719.5,536.3 722.4,537.7 725.2,541.5 728.1,543.4 731.0,545.9 733.8,549.7 736.7,551.2 739.5,554.1 742.4,562.1 745.2,570.8 748.1,576.6 751.0,583.9 753.8,582.3 756.7,579.8 759.5,572.9 762.4,565.7 765.3,563.0 768.1,554.8 771.0,553.5 773.8,554.2 776.7,554.7 779.6,549.9 782.4,547.6 785.3,549.7 788.1,548.2 791.0,547.4 793.9,544.7 796.7,546.7 799.6,542.8 802.4,543.8 805.3,540.9 808.2,541.5 811.0,541.3 813.9,542.1 816.7,539.5 819.6,537.7 822.5,534.0 825.3,530.0 828.2,528.0 831.0,519.7 833.9,511.1 836.7,508.3 839.6,502.3 842.5,496.9 845.3,498.4 848.2,502.5 851.0,511.2 853.9,516.9 856.8,522.7 859.6,528.9 862.5,530.6 865.3,533.2 868.2,538.4 871.1,539.4 873.9,539.5 876.8,542.2 879.6,542.4 882.5,542.1 885.4,546.8 888.2,544.1 891.1,544.6 893.9,546.3 896.8,550.3 899.7,550.3 902.5,556.9 905.4,558.0 908.2,563.7 911.1,570.6 914.0,575.0 916.8,578.0 919.7,577.9 922.5,578.0 925.4,572.5 928.2,570.0 931.1,566.8 934.0,557.9 936.8,559.0 939.7,552.9 942.5,556.3 945.4,554.6 948.3,547.8 951.1,546.4 954.0,546.9 956.8,545.2 959.7,547.2" fill="none" stroke="#29c2d4" stroke-width="1.0" stroke-linejoin="round" stroke-linecap="round" opacity="0.9" />
<g fill="#29c2d4"><circle cx="685.2" cy="536.6" r="2.5"/><circle cx="688.1" cy="534.6" r="2.5"/><circle cx="690.9" cy="529.5" r="2.5"/><circle cx="693.8" cy="530.8" r="2.5"/><circle cx="696.6" cy="530.5" r="2.5"/><circle cx="699.5" cy="531.2" r="2.5"/><circle cx="702.4" cy="531.4" r="2.5"/><circle cx="705.2" cy="530.4" r="2.5"/><circle cx="708.1" cy="533.7" r="2.5"/><circle cx="710.9" cy="536.5" r="2.5"/><circle cx="713.8" cy="534.4" r="2.5"/><circle cx="716.7" cy="536.6" r="2.5"/><circle cx="719.5" cy="536.3" r="2.5"/><circle cx="722.4" cy="537.7" r="2.5"/><circle cx="725.2" cy="541.5" r="2.5"/><circle cx="728.1" cy="543.4" r="2.5"/><circle cx="731.0" cy="545.9" r="2.5"/><circle cx="733.8" cy="549.7" r="2.5"/><circle cx="736.7" cy="551.2" r="2.5"/><circle cx="739.5" cy="554.1" r="2.5"/><circle cx="742.4" cy="562.1" r="2.5"/><circle cx="745.2" cy="570.8" r="2.5"/><circle cx="748.1" cy="576.6" r="2.5"/><circle cx="751.0" cy="583.9" r="2.5"/><circle cx="753.8" cy="582.3" r="2.5"/><circle cx="756.7" cy="579.8" r="2.5"/><circle cx="759.5" cy="572.9" r="2.5"/><circle cx="762.4" cy="565.7" r="2.5"/><circle cx="765.3" cy="563.0" r="2.5"/><circle cx="768.1" cy="554.8" r="2.5"/><circle cx="771.0" cy="553.5" r="2.5"/><circle cx="773.8" cy="554.2" r="2.5"/><circle cx="776.7" cy="554.7" r="2.5"/><circle cx="779.6" cy="549.9" r="2.5"/><circle cx="782.4" cy="547.6" r="2.5"/><circle cx="785.3" cy="549.7" r="2.5"/><circle cx="788.1" cy="548.2" r="2.5"/><circle cx="791.0" cy="547.4" r="2.5"/><circle cx="793.9" cy="544.7" r="2.5"/><circle cx="796.7" cy="546.7" r="2.5"/><circle cx="799.6" cy="542.8" r="2.5"/><circle cx="802.4" cy="543.8" r="2.5"/><circle cx="805.3" cy="540.9" r="2.5"/><circle cx="808.2" cy="541.5" r="2.5"/><circle cx="811.0" cy="541.3" r="2.5"/><circle cx="813.9" cy="542.1" r="2.5"/><circle cx="816.7" cy="539.5" r="2.5"/><circle cx="819.6" cy="537.7" r="2.5"/><circle cx="822.5" cy="534.0" r="2.5"/><circle cx="825.3" cy="530.0" r="2.5"/><circle cx="828.2" cy="528.0" r="2.5"/><circle cx="831.0" cy="519.7" r="2.5"/><circle cx="833.9" cy="511.1" r="2.5"/><circle cx="836.7" cy="508.3" r="2.5"/><circle cx="839.6" cy="502.3" r="2.5"/><circle cx="842.5" cy="496.9" r="2.5"/><circle cx="845.3" cy="498.4" r="2.5"/><circle cx="848.2" cy="502.5" r="2.5"/><circle cx="851.0" cy="511.2" r="2.5"/><circle cx="853.9" cy="516.9" r="2.5"/><circle cx="856.8" cy="522.7" r="2.5"/><circle cx="859.6" cy="528.9" r="2.5"/><circle cx="862.5" cy="530.6" r="2.5"/><circle cx="865.3" cy="533.2" r="2.5"/><circle cx="868.2" cy="538.4" r="2.5"/><circle cx="871.1" cy="539.4" r="2.5"/><circle cx="873.9" cy="539.5" r="2.5"/><circle cx="876.8" cy="542.2" r="2.5"/><circle cx="879.6" cy="542.4" r="2.5"/><circle cx="882.5" cy="542.1" r="2.5"/><circle cx="885.4" cy="546.8" r="2.5"/><circle cx="888.2" cy="544.1" r="2.5"/><circle cx="891.1" cy="544.6" r="2.5"/><circle cx="893.9" cy="546.3" r="2.5"/><circle cx="896.8" cy="550.3" r="2.5"/><circle cx="899.7" cy="550.3" r="2.5"/><circle cx="902.5" cy="556.9" r="2.5"/><circle cx="905.4" cy="558.0" r="2.5"/><circle cx="908.2" cy="563.7" r="2.5"/><circle cx="911.1" cy="570.6" r="2.5"/><circle cx="914.0" cy="575.0" r="2.5"/><circle cx="916.8" cy="578.0" r="2.5"/><circle cx="919.7" cy="577.9" r="2.5"/><circle cx="922.5" cy="578.0" r="2.5"/><circle cx="925.4" cy="572.5" r="2.5"/><circle cx="928.2" cy="570.0" r="2.5"/><circle cx="931.1" cy="566.8" r="2.5"/><circle cx="934.0" cy="557.9" r="2.5"/><circle cx="936.8" cy="559.0" r="2.5"/><circle cx="939.7" cy="552.9" r="2.5"/><circle cx="942.5" cy="556.3" r="2.5"/><circle cx="945.4" cy="554.6" r="2.5"/><circle cx="948.3" cy="547.8" r="2.5"/><circle cx="951.1" cy="546.4" r="2.5"/><circle cx="954.0" cy="546.9" r="2.5"/><circle cx="956.8" cy="545.2" r="2.5"/><circle cx="959.7" cy="547.2" r="2.5"/></g>
<text x="685.2" y="615.7" font-size="11" fill="#444" font-weight="normal" font-style="normal" text-anchor="middle" textLength="7" lengthAdjust="spacingAndGlyphs" >0</text>
<text x="721.8" y="615.7" font-size="11" fill="#444" font-weight="normal" font-style="normal" text-anchor="middle" textLength="7" lengthAdjust="spacingAndGlyphs" >1</text>
<text x="758.4" y="615.7" font-size="11" fill="#444" font-weight="normal" font-style="normal" text-anchor="middle" textLength="7" lengthAdjust="spacingAndGlyphs" >2</text>
<text x="795.0" y="615.7" font-size="11" fill="#444" font-weight="normal" font-style="normal" text-anchor="middle" textLength="7" lengthAdjust="spacingAndGlyphs" >3</text>
<text x="831.6" y="615.7" font-size="11" fill="#444" font-weight="normal" font-style="normal" text-anchor="middle" textLength="7" lengthAdjust="spacingAndGlyphs" >4</text>
<text x="868.2" y="615.7" font-size="11" fill="#444" font-weight="normal" font-style="normal" text-anchor="middle" textLength="7" lengthAdjust="spacingAndGlyphs" >5</text>
<text x="904.8" y="615.7" font-size="11" fill="#444" font-weight="normal" font-style="normal" text-anchor="middle" textLength="7" lengthAdjust="spacingAndGlyphs" >6</text>
<text x="941.4" y="615.7" font-size="11" fill="#444" font-weight="normal" font-style="normal" text-anchor="middle" textLength="7" lengthAdjust="spacingAndGlyphs" >7</text>
<text x="681.7" y="502.9" font-size="11" fill="#444" font-weight="normal" font-style="normal" text-anchor="end" textLength="19.200000000000003" lengthAdjust="spacingAndGlyphs" >150</text>
<text x="681.7" y="524.7" font-size="11" fill="#444" font-weight="normal" font-style="normal" text-anchor="end" textLength="12.8" lengthAdjust="spacingAndGlyphs" >75</text>
<text x="681.7" y="546.5" font-size="11" fill="#444" font-weight="normal" font-style="normal" text-anchor="end" textLength="6.4" lengthAdjust="spacingAndGlyphs" >0</text>
<text x="681.7" y="568.3" font-size="11" fill="#444" font-weight="normal" font-style="normal" text-anchor="end" textLength="16.8" lengthAdjust="spacingAndGlyphs" >-75</text>
<text x="681.7" y="590.1" font-size="11" fill="#444" font-weight="normal" font-style="normal" text-anchor="end" textLength="23.200000000000003" lengthAdjust="spacingAndGlyphs" >-150</text>
<rect x="799.6" y="566.4" width="77.60000000000002" height="26.200000000000045" fill="#fff" stroke="#bbb" stroke-width="1"/>
<line x1="801.6" x2="823.6" y1="573.4" y2="573.4" stroke="#1d4f9e" stroke-width="1"/><circle cx="812.6" cy="573.4" r="2.3" fill="#1d4f9e"/>
<text x="827.6" y="576.7" font-size="9" fill="#444" font-weight="normal" font-style="normal" text-anchor="start" >HighForce</text>
<line x1="801.6" x2="823.6" y1="586.4" y2="586.4" stroke="#29c2d4" stroke-width="1"/><circle cx="812.6" cy="586.4" r="2.3" fill="#29c2d4"/>
<text x="827.6" y="589.7" font-size="9" fill="#444" font-weight="normal" font-style="normal" text-anchor="start" >LowForce</text>
<rect x="1036.3" y="484.2" width="274.79999999999995" height="116.00000000000006" fill="#fff"/>
<rect x="1036.3" y="484.2" width="274.79999999999995" height="116.00000000000006" fill="none" stroke="#666" stroke-width="1.1"/>
<path d="M1036.30,600.20v3M1036.30,484.20v3M1072.90,600.20v3M1072.90,484.20v3M1109.50,600.20v3M1109.50,484.20v3M1146.10,600.20v3M1146.10,484.20v3M1182.70,600.20v3M1182.70,484.20v3M1219.30,600.20v3M1219.30,484.20v3M1255.90,600.20v3M1255.90,484.20v3M1292.50,600.20v3M1292.50,484.20v3M1054.60,600.20v2M1054.60,484.20v2M1091.20,600.20v2M1091.20,484.20v2M1127.80,600.20v2M1127.80,484.20v2M1164.40,600.20v2M1164.40,484.20v2M1201.00,600.20v2M1201.00,484.20v2M1237.60,600.20v2M1237.60,484.20v2M1274.20,600.20v2M1274.20,484.20v2M1036.30,585.40h-3M1311.10,585.40h-3M1036.30,563.80h-3M1311.10,563.80h-3M1036.30,542.20h-3M1311.10,542.20h-3M1036.30,520.60h-3M1311.10,520.60h-3M1036.30,499.00h-3M1311.10,499.00h-3M1036.30,574.60h-2M1311.10,574.60h-2M1036.30,553.00h-2M1311.10,553.00h-2M1036.30,531.40h-2M1311.10,531.40h-2M1036.30,509.80h-2M1311.10,509.80h-2" stroke="#666" stroke-width="1.1" fill="none"/>
<polyline points="1036.3,554.1 1039.2,552.7 1042.0,547.7 1044.9,550.4 1047.7,545.7 1050.6,547.7 1053.5,540.6 1056.3,540.3 1059.2,537.5 1062.0,539.2 1064.9,536.2 1067.8,535.9 1070.6,535.0 1073.5,529.6 1076.3,528.5 1079.2,521.7 1082.0,512.6 1084.9,508.9 1087.8,502.9 1090.6,497.6 1093.5,505.9 1096.3,511.8 1099.2,519.5 1102.1,525.0 1104.9,530.2 1107.8,534.1 1110.6,531.1 1113.5,535.4 1116.4,536.4 1119.2,536.5 1122.1,535.0 1124.9,539.4 1127.8,541.0 1130.7,537.1 1133.5,544.2 1136.4,543.1 1139.2,542.6 1142.1,541.5 1145.0,547.7 1147.8,550.8 1150.7,547.2 1153.5,550.4 1156.4,551.3 1159.3,552.8 1162.1,558.6 1165.0,563.4 1167.8,568.3 1170.7,572.3 1173.5,578.7 1176.4,585.2 1179.3,591.8 1182.1,588.5 1185.0,579.2 1187.8,569.1 1190.7,559.5 1193.6,552.3 1196.4,549.1 1199.3,546.3 1202.1,540.7 1205.0,537.8 1207.9,536.1 1210.7,537.2 1213.6,531.1 1216.4,534.3 1219.3,537.0 1222.2,534.8 1225.0,535.7 1227.9,535.8 1230.7,533.7 1233.6,531.4 1236.5,532.3 1239.3,527.6 1242.2,523.6 1245.0,526.4 1247.9,521.3 1250.8,514.0 1253.6,515.3 1256.5,510.4 1259.3,505.7 1262.2,509.8 1265.0,515.9 1267.9,522.8 1270.8,519.1 1273.6,525.7 1276.5,528.5 1279.3,530.4 1282.2,535.5 1285.1,536.9 1287.9,538.1 1290.8,533.6 1293.6,538.4 1296.5,537.9 1299.4,538.2 1302.2,537.7 1305.1,539.1 1307.9,540.9 1310.8,544.2" fill="none" stroke="#0c3a22" stroke-width="1.0" stroke-linejoin="round" stroke-linecap="round" opacity="0.9" />
<g fill="#0c3a22"><circle cx="1036.3" cy="554.1" r="2.3"/><circle cx="1039.2" cy="552.7" r="2.3"/><circle cx="1042.0" cy="547.7" r="2.3"/><circle cx="1044.9" cy="550.4" r="2.3"/><circle cx="1047.7" cy="545.7" r="2.3"/><circle cx="1050.6" cy="547.7" r="2.3"/><circle cx="1053.5" cy="540.6" r="2.3"/><circle cx="1056.3" cy="540.3" r="2.3"/><circle cx="1059.2" cy="537.5" r="2.3"/><circle cx="1062.0" cy="539.2" r="2.3"/><circle cx="1064.9" cy="536.2" r="2.3"/><circle cx="1067.8" cy="535.9" r="2.3"/><circle cx="1070.6" cy="535.0" r="2.3"/><circle cx="1073.5" cy="529.6" r="2.3"/><circle cx="1076.3" cy="528.5" r="2.3"/><circle cx="1079.2" cy="521.7" r="2.3"/><circle cx="1082.0" cy="512.6" r="2.3"/><circle cx="1084.9" cy="508.9" r="2.3"/><circle cx="1087.8" cy="502.9" r="2.3"/><circle cx="1090.6" cy="497.6" r="2.3"/><circle cx="1093.5" cy="505.9" r="2.3"/><circle cx="1096.3" cy="511.8" r="2.3"/><circle cx="1099.2" cy="519.5" r="2.3"/><circle cx="1102.1" cy="525.0" r="2.3"/><circle cx="1104.9" cy="530.2" r="2.3"/><circle cx="1107.8" cy="534.1" r="2.3"/><circle cx="1110.6" cy="531.1" r="2.3"/><circle cx="1113.5" cy="535.4" r="2.3"/><circle cx="1116.4" cy="536.4" r="2.3"/><circle cx="1119.2" cy="536.5" r="2.3"/><circle cx="1122.1" cy="535.0" r="2.3"/><circle cx="1124.9" cy="539.4" r="2.3"/><circle cx="1127.8" cy="541.0" r="2.3"/><circle cx="1130.7" cy="537.1" r="2.3"/><circle cx="1133.5" cy="544.2" r="2.3"/><circle cx="1136.4" cy="543.1" r="2.3"/><circle cx="1139.2" cy="542.6" r="2.3"/><circle cx="1142.1" cy="541.5" r="2.3"/><circle cx="1145.0" cy="547.7" r="2.3"/><circle cx="1147.8" cy="550.8" r="2.3"/><circle cx="1150.7" cy="547.2" r="2.3"/><circle cx="1153.5" cy="550.4" r="2.3"/><circle cx="1156.4" cy="551.3" r="2.3"/><circle cx="1159.3" cy="552.8" r="2.3"/><circle cx="1162.1" cy="558.6" r="2.3"/><circle cx="1165.0" cy="563.4" r="2.3"/><circle cx="1167.8" cy="568.3" r="2.3"/><circle cx="1170.7" cy="572.3" r="2.3"/><circle cx="1173.5" cy="578.7" r="2.3"/><circle cx="1176.4" cy="585.2" r="2.3"/><circle cx="1179.3" cy="591.8" r="2.3"/><circle cx="1182.1" cy="588.5" r="2.3"/><circle cx="1185.0" cy="579.2" r="2.3"/><circle cx="1187.8" cy="569.1" r="2.3"/><circle cx="1190.7" cy="559.5" r="2.3"/><circle cx="1193.6" cy="552.3" r="2.3"/><circle cx="1196.4" cy="549.1" r="2.3"/><circle cx="1199.3" cy="546.3" r="2.3"/><circle cx="1202.1" cy="540.7" r="2.3"/><circle cx="1205.0" cy="537.8" r="2.3"/><circle cx="1207.9" cy="536.1" r="2.3"/><circle cx="1210.7" cy="537.2" r="2.3"/><circle cx="1213.6" cy="531.1" r="2.3"/><circle cx="1216.4" cy="534.3" r="2.3"/><circle cx="1219.3" cy="537.0" r="2.3"/><circle cx="1222.2" cy="534.8" r="2.3"/><circle cx="1225.0" cy="535.7" r="2.3"/><circle cx="1227.9" cy="535.8" r="2.3"/><circle cx="1230.7" cy="533.7" r="2.3"/><circle cx="1233.6" cy="531.4" r="2.3"/><circle cx="1236.5" cy="532.3" r="2.3"/><circle cx="1239.3" cy="527.6" r="2.3"/><circle cx="1242.2" cy="523.6" r="2.3"/><circle cx="1245.0" cy="526.4" r="2.3"/><circle cx="1247.9" cy="521.3" r="2.3"/><circle cx="1250.8" cy="514.0" r="2.3"/><circle cx="1253.6" cy="515.3" r="2.3"/><circle cx="1256.5" cy="510.4" r="2.3"/><circle cx="1259.3" cy="505.7" r="2.3"/><circle cx="1262.2" cy="509.8" r="2.3"/><circle cx="1265.0" cy="515.9" r="2.3"/><circle cx="1267.9" cy="522.8" r="2.3"/><circle cx="1270.8" cy="519.1" r="2.3"/><circle cx="1273.6" cy="525.7" r="2.3"/><circle cx="1276.5" cy="528.5" r="2.3"/><circle cx="1279.3" cy="530.4" r="2.3"/><circle cx="1282.2" cy="535.5" r="2.3"/><circle cx="1285.1" cy="536.9" r="2.3"/><circle cx="1287.9" cy="538.1" r="2.3"/><circle cx="1290.8" cy="533.6" r="2.3"/><circle cx="1293.6" cy="538.4" r="2.3"/><circle cx="1296.5" cy="537.9" r="2.3"/><circle cx="1299.4" cy="538.2" r="2.3"/><circle cx="1302.2" cy="537.7" r="2.3"/><circle cx="1305.1" cy="539.1" r="2.3"/><circle cx="1307.9" cy="540.9" r="2.3"/><circle cx="1310.8" cy="544.2" r="2.3"/></g>
<polyline points="1036.3,556.9 1039.2,550.3 1042.0,548.2 1044.9,544.7 1047.7,545.6 1050.6,545.1 1053.5,541.7 1056.3,543.2 1059.2,541.4 1062.0,540.1 1064.9,536.5 1067.8,532.3 1070.6,532.8 1073.5,528.4 1076.3,526.6 1079.2,521.4 1082.0,515.3 1084.9,510.4 1087.8,507.3 1090.6,504.2 1093.5,509.1 1096.3,510.5 1099.2,519.4 1102.1,522.9 1104.9,527.5 1107.8,534.3 1110.6,532.9 1113.5,532.6 1116.4,536.8 1119.2,536.0 1122.1,538.6 1124.9,541.7 1127.8,539.9 1130.7,542.4 1133.5,541.7 1136.4,543.2 1139.2,543.1 1142.1,548.4 1145.0,542.8 1147.8,544.7 1150.7,548.6 1153.5,550.8 1156.4,550.4 1159.3,552.2 1162.1,557.8 1165.0,562.6 1167.8,570.0 1170.7,575.1 1173.5,577.8 1176.4,583.6 1179.3,592.0 1182.1,589.6 1185.0,581.1 1187.8,568.4 1190.7,556.4 1193.6,553.9 1196.4,546.9 1199.3,545.3 1202.1,543.4 1205.0,538.9 1207.9,532.6 1210.7,535.6 1213.6,535.8 1216.4,532.9 1219.3,535.6 1222.2,536.5 1225.0,534.1 1227.9,538.8 1230.7,534.9 1233.6,536.9 1236.5,535.7 1239.3,531.8 1242.2,525.6 1245.0,525.6 1247.9,524.1 1250.8,517.8 1253.6,511.0 1256.5,509.3 1259.3,510.5 1262.2,508.4 1265.0,518.2 1267.9,522.4 1270.8,523.7 1273.6,525.5 1276.5,527.5 1279.3,529.9 1282.2,533.8 1285.1,535.8 1287.9,538.7 1290.8,536.9 1293.6,538.2 1296.5,537.2 1299.4,540.0 1302.2,539.6 1305.1,541.4 1307.9,543.3 1310.8,544.1" fill="none" stroke="#2ec4b4" stroke-width="1.0" stroke-linejoin="round" stroke-linecap="round" opacity="0.9" />
<g fill="#2ec4b4"><circle cx="1036.3" cy="556.9" r="2.5"/><circle cx="1039.2" cy="550.3" r="2.5"/><circle cx="1042.0" cy="548.2" r="2.5"/><circle cx="1044.9" cy="544.7" r="2.5"/><circle cx="1047.7" cy="545.6" r="2.5"/><circle cx="1050.6" cy="545.1" r="2.5"/><circle cx="1053.5" cy="541.7" r="2.5"/><circle cx="1056.3" cy="543.2" r="2.5"/><circle cx="1059.2" cy="541.4" r="2.5"/><circle cx="1062.0" cy="540.1" r="2.5"/><circle cx="1064.9" cy="536.5" r="2.5"/><circle cx="1067.8" cy="532.3" r="2.5"/><circle cx="1070.6" cy="532.8" r="2.5"/><circle cx="1073.5" cy="528.4" r="2.5"/><circle cx="1076.3" cy="526.6" r="2.5"/><circle cx="1079.2" cy="521.4" r="2.5"/><circle cx="1082.0" cy="515.3" r="2.5"/><circle cx="1084.9" cy="510.4" r="2.5"/><circle cx="1087.8" cy="507.3" r="2.5"/><circle cx="1090.6" cy="504.2" r="2.5"/><circle cx="1093.5" cy="509.1" r="2.5"/><circle cx="1096.3" cy="510.5" r="2.5"/><circle cx="1099.2" cy="519.4" r="2.5"/><circle cx="1102.1" cy="522.9" r="2.5"/><circle cx="1104.9" cy="527.5" r="2.5"/><circle cx="1107.8" cy="534.3" r="2.5"/><circle cx="1110.6" cy="532.9" r="2.5"/><circle cx="1113.5" cy="532.6" r="2.5"/><circle cx="1116.4" cy="536.8" r="2.5"/><circle cx="1119.2" cy="536.0" r="2.5"/><circle cx="1122.1" cy="538.6" r="2.5"/><circle cx="1124.9" cy="541.7" r="2.5"/><circle cx="1127.8" cy="539.9" r="2.5"/><circle cx="1130.7" cy="542.4" r="2.5"/><circle cx="1133.5" cy="541.7" r="2.5"/><circle cx="1136.4" cy="543.2" r="2.5"/><circle cx="1139.2" cy="543.1" r="2.5"/><circle cx="1142.1" cy="548.4" r="2.5"/><circle cx="1145.0" cy="542.8" r="2.5"/><circle cx="1147.8" cy="544.7" r="2.5"/><circle cx="1150.7" cy="548.6" r="2.5"/><circle cx="1153.5" cy="550.8" r="2.5"/><circle cx="1156.4" cy="550.4" r="2.5"/><circle cx="1159.3" cy="552.2" r="2.5"/><circle cx="1162.1" cy="557.8" r="2.5"/><circle cx="1165.0" cy="562.6" r="2.5"/><circle cx="1167.8" cy="570.0" r="2.5"/><circle cx="1170.7" cy="575.1" r="2.5"/><circle cx="1173.5" cy="577.8" r="2.5"/><circle cx="1176.4" cy="583.6" r="2.5"/><circle cx="1179.3" cy="592.0" r="2.5"/><circle cx="1182.1" cy="589.6" r="2.5"/><circle cx="1185.0" cy="581.1" r="2.5"/><circle cx="1187.8" cy="568.4" r="2.5"/><circle cx="1190.7" cy="556.4" r="2.5"/><circle cx="1193.6" cy="553.9" r="2.5"/><circle cx="1196.4" cy="546.9" r="2.5"/><circle cx="1199.3" cy="545.3" r="2.5"/><circle cx="1202.1" cy="543.4" r="2.5"/><circle cx="1205.0" cy="538.9" r="2.5"/><circle cx="1207.9" cy="532.6" r="2.5"/><circle cx="1210.7" cy="535.6" r="2.5"/><circle cx="1213.6" cy="535.8" r="2.5"/><circle cx="1216.4" cy="532.9" r="2.5"/><circle cx="1219.3" cy="535.6" r="2.5"/><circle cx="1222.2" cy="536.5" r="2.5"/><circle cx="1225.0" cy="534.1" r="2.5"/><circle cx="1227.9" cy="538.8" r="2.5"/><circle cx="1230.7" cy="534.9" r="2.5"/><circle cx="1233.6" cy="536.9" r="2.5"/><circle cx="1236.5" cy="535.7" r="2.5"/><circle cx="1239.3" cy="531.8" r="2.5"/><circle cx="1242.2" cy="525.6" r="2.5"/><circle cx="1245.0" cy="525.6" r="2.5"/><circle cx="1247.9" cy="524.1" r="2.5"/><circle cx="1250.8" cy="517.8" r="2.5"/><circle cx="1253.6" cy="511.0" r="2.5"/><circle cx="1256.5" cy="509.3" r="2.5"/><circle cx="1259.3" cy="510.5" r="2.5"/><circle cx="1262.2" cy="508.4" r="2.5"/><circle cx="1265.0" cy="518.2" r="2.5"/><circle cx="1267.9" cy="522.4" r="2.5"/><circle cx="1270.8" cy="523.7" r="2.5"/><circle cx="1273.6" cy="525.5" r="2.5"/><circle cx="1276.5" cy="527.5" r="2.5"/><circle cx="1279.3" cy="529.9" r="2.5"/><circle cx="1282.2" cy="533.8" r="2.5"/><circle cx="1285.1" cy="535.8" r="2.5"/><circle cx="1287.9" cy="538.7" r="2.5"/><circle cx="1290.8" cy="536.9" r="2.5"/><circle cx="1293.6" cy="538.2" r="2.5"/><circle cx="1296.5" cy="537.2" r="2.5"/><circle cx="1299.4" cy="540.0" r="2.5"/><circle cx="1302.2" cy="539.6" r="2.5"/><circle cx="1305.1" cy="541.4" r="2.5"/><circle cx="1307.9" cy="543.3" r="2.5"/><circle cx="1310.8" cy="544.1" r="2.5"/></g>
<text x="1036.3" y="615.7" font-size="11" fill="#444" font-weight="normal" font-style="normal" text-anchor="middle" textLength="7" lengthAdjust="spacingAndGlyphs" >0</text>
<text x="1072.9" y="615.7" font-size="11" fill="#444" font-weight="normal" font-style="normal" text-anchor="middle" textLength="7" lengthAdjust="spacingAndGlyphs" >1</text>
<text x="1109.5" y="615.7" font-size="11" fill="#444" font-weight="normal" font-style="normal" text-anchor="middle" textLength="7" lengthAdjust="spacingAndGlyphs" >2</text>
<text x="1146.1" y="615.7" font-size="11" fill="#444" font-weight="normal" font-style="normal" text-anchor="middle" textLength="7" lengthAdjust="spacingAndGlyphs" >3</text>
<text x="1182.7" y="615.7" font-size="11" fill="#444" font-weight="normal" font-style="normal" text-anchor="middle" textLength="7" lengthAdjust="spacingAndGlyphs" >4</text>
<text x="1219.3" y="615.7" font-size="11" fill="#444" font-weight="normal" font-style="normal" text-anchor="middle" textLength="7" lengthAdjust="spacingAndGlyphs" >5</text>
<text x="1255.9" y="615.7" font-size="11" fill="#444" font-weight="normal" font-style="normal" text-anchor="middle" textLength="7" lengthAdjust="spacingAndGlyphs" >6</text>
<text x="1292.5" y="615.7" font-size="11" fill="#444" font-weight="normal" font-style="normal" text-anchor="middle" textLength="7" lengthAdjust="spacingAndGlyphs" >7</text>
<text x="1032.8" y="502.8" font-size="11" fill="#444" font-weight="normal" font-style="normal" text-anchor="end" textLength="19.200000000000003" lengthAdjust="spacingAndGlyphs" >150</text>
<text x="1032.8" y="524.4" font-size="11" fill="#444" font-weight="normal" font-style="normal" text-anchor="end" textLength="12.8" lengthAdjust="spacingAndGlyphs" >75</text>
<text x="1032.8" y="546.0" font-size="11" fill="#444" font-weight="normal" font-style="normal" text-anchor="end" textLength="6.4" lengthAdjust="spacingAndGlyphs" >0</text>
<text x="1032.8" y="567.6" font-size="11" fill="#444" font-weight="normal" font-style="normal" text-anchor="end" textLength="16.8" lengthAdjust="spacingAndGlyphs" >-75</text>
<text x="1032.8" y="589.2" font-size="11" fill="#444" font-weight="normal" font-style="normal" text-anchor="end" textLength="23.200000000000003" lengthAdjust="spacingAndGlyphs" >-150</text>
<rect x="1224.3" y="561.6" width="79.5" height="25.600000000000023" fill="#fff" stroke="#bbb" stroke-width="1"/>
<line x1="1226.3" x2="1248.3" y1="568.6" y2="568.6" stroke="#0c3a22" stroke-width="1"/><circle cx="1237.3" cy="568.6" r="2.3" fill="#0c3a22"/>
<text x="1252.3" y="571.9" font-size="9" fill="#444" font-weight="normal" font-style="normal" text-anchor="start" >HighForce</text>
<line x1="1226.3" x2="1248.3" y1="581.6" y2="581.6" stroke="#2ec4b4" stroke-width="1"/><circle cx="1237.3" cy="581.6" r="2.3" fill="#2ec4b4"/>
<text x="1252.3" y="584.9" font-size="9" fill="#444" font-weight="normal" font-style="normal" text-anchor="start" >LowForce</text>
<text x="0.0" y="0.0" font-size="16" fill="#222" font-weight="normal" font-style="normal" text-anchor="middle" textLength="104" lengthAdjust="spacingAndGlyphs" transform="translate(645.8 547.4) rotate(-90)">Current (fA)</text>
<text x="0.0" y="0.0" font-size="16" fill="#222" font-weight="normal" font-style="normal" text-anchor="middle" textLength="104" lengthAdjust="spacingAndGlyphs" transform="translate(996.3 547.4) rotate(-90)">Current (fA)</text>
<text x="765.0" y="635.5" font-size="16" fill="#222" font-weight="normal" font-style="normal" text-anchor="start" textLength="120.3" lengthAdjust="spacingAndGlyphs" >Distance (µm)</text>
<text x="1109.7" y="634.4" font-size="16" fill="#222" font-weight="normal" font-style="normal" text-anchor="start" textLength="120" lengthAdjust="spacingAndGlyphs" >Distance (µm)</text>
<text x="693.0" y="591.2" font-size="26" fill="#333" font-weight="normal" font-style="italic" text-anchor="start" textLength="48.6" lengthAdjust="spacingAndGlyphs" >trace</text>
<text x="1045.8" y="591.2" font-size="26" fill="#333" font-weight="normal" font-style="italic" text-anchor="start" textLength="68.5" lengthAdjust="spacingAndGlyphs" >retrace</text>
<line x1="554" x2="554" y1="339" y2="430" stroke="#ddd" stroke-width="1"/>
<path d="M124.3,471.2v5.5M124.3,342.0v5M194.6,471.2v5.5M194.6,342.0v5M264.9,471.2v5.5M264.9,342.0v5M335.2,471.2v5.5M335.2,342.0v5M405.5,471.2v5.5M405.5,342.0v5M475.8,471.2v5.5M475.8,342.0v5M546.1,471.2v5.5M546.1,342.0v5M89.2,471.2v3.2M89.2,342.0v3M159.4,471.2v3.2M159.4,342.0v3M229.8,471.2v3.2M229.8,342.0v3M300.1,471.2v3.2M300.1,342.0v3M370.3,471.2v3.2M370.3,342.0v3M440.6,471.2v3.2M440.6,342.0v3M510.9,471.2v3.2M510.9,342.0v3M89.6,367.9h-5.5M546.7,367.9h-5M89.6,406.0h-5.5M546.7,406.0h-5M89.6,444.1h-5.5M546.7,444.1h-5M89.6,348.8h-3.2M546.7,348.8h-3M89.6,386.9h-3.2M546.7,386.9h-3M89.6,425.1h-3.2M546.7,425.1h-3M89.6,463.2h-3.2M546.7,463.2h-3" stroke="#333" stroke-width="1.4" fill="none"/>
<rect x="89.6" y="342.0" width="457.1" height="129.2" fill="none" stroke="#333" stroke-width="1.6"/>
<line x1="124.3" y1="406.0" x2="491.3" y2="433.1" stroke="#fbaa4f" stroke-width="2.2"/>
<line x1="124.3" y1="406.0" x2="491.3" y2="367.6" stroke="#1a90d4" stroke-width="2.6"/>
<path d="M165.1,430.2V442.4M162.6,430.2h5M162.6,442.4h5" stroke="#f8a070" stroke-width="1"/>
<rect x="161.9" y="433.1" width="6.4" height="6.4" fill="#f5862c"/>
<path d="M491.3,422.5V437.3M488.8,422.5h5M488.8,437.3h5" stroke="#f8a070" stroke-width="1"/>
<rect x="488.1" y="426.7" width="6.4" height="6.4" fill="#f5862c"/>
<circle cx="124.3" cy="406.0" r="4.1" fill="#12619e"/>
<circle cx="165.1" cy="367.9" r="4.1" fill="#12619e"/>
<circle cx="491.3" cy="371.4" r="4.1" fill="#12619e"/>
<circle cx="491.8" cy="372.9" r="3.6" fill="#12619e"/>
<text x="124.3" y="497.2" font-size="20" fill="#222" font-weight="normal" font-style="normal" text-anchor="middle" textLength="10.9" lengthAdjust="spacingAndGlyphs" >0</text>
<text x="194.6" y="497.2" font-size="20" fill="#222" font-weight="normal" font-style="normal" text-anchor="middle" textLength="21.8" lengthAdjust="spacingAndGlyphs" >50</text>
<text x="264.9" y="497.2" font-size="20" fill="#222" font-weight="normal" font-style="normal" text-anchor="middle" textLength="32.7" lengthAdjust="spacingAndGlyphs" >100</text>
<text x="335.2" y="497.2" font-size="20" fill="#222" font-weight="normal" font-style="normal" text-anchor="middle" textLength="32.7" lengthAdjust="spacingAndGlyphs" >150</text>
<text x="405.5" y="497.2" font-size="20" fill="#222" font-weight="normal" font-style="normal" text-anchor="middle" textLength="32.7" lengthAdjust="spacingAndGlyphs" >200</text>
<text x="475.8" y="497.2" font-size="20" fill="#222" font-weight="normal" font-style="normal" text-anchor="middle" textLength="32.7" lengthAdjust="spacingAndGlyphs" >250</text>
<text x="546.1" y="497.2" font-size="20" fill="#222" font-weight="normal" font-style="normal" text-anchor="middle" textLength="32.7" lengthAdjust="spacingAndGlyphs" >300</text>
<text x="78.8" y="373.7" font-size="16" fill="#222" font-weight="normal" font-style="normal" text-anchor="end" >1,5</text>
<text x="78.8" y="411.8" font-size="16" fill="#222" font-weight="normal" font-style="normal" text-anchor="end" >0,0</text>
<text x="78.8" y="449.9" font-size="16" fill="#222" font-weight="normal" font-style="normal" text-anchor="end" >-1,5</text>
<text x="0.0" y="0.0" font-size="21" fill="#222" font-weight="normal" font-style="normal" text-anchor="middle" textLength="115.6" lengthAdjust="spacingAndGlyphs" transform="translate(40.6 410.7) rotate(-90)">Charge (fC)</text>
<text x="270.4" y="531.1" font-size="26.5" fill="#111" font-weight="normal" font-style="normal" text-anchor="start" textLength="133.5" lengthAdjust="spacingAndGlyphs" >Force (µN)</text>
<rect x="106.5" y="286.9" width="14.5" height="13.7" fill="#f5862c"/>
<circle cx="113.9" cy="317.2" r="7.7" fill="#12619e"/>
<text x="139.4" y="300.5" font-size="21.5" fill="#4c4c4c" font-weight="normal" font-style="italic" text-anchor="start" textLength="100.6" lengthAdjust="spacingAndGlyphs" >neg. charge</text>
<text x="139.4" y="323.3" font-size="21.5" fill="#4c4c4c" font-weight="normal" font-style="italic" text-anchor="start" textLength="100.6" lengthAdjust="spacingAndGlyphs" >pos. charge</text>
<line x1="307.4" x2="353.5" y1="296.8" y2="296.8" stroke="#fbaa4f" stroke-width="4"/>
<line x1="307.4" x2="353.5" y1="317.4" y2="317.4" stroke="#1a90d4" stroke-width="4"/>
<text x="361.8" y="298.0" font-size="21.5" fill="#4c4c4c" font-weight="normal" font-style="italic" text-anchor="start" textLength="179" lengthAdjust="spacingAndGlyphs" >pos. charge linear fit</text>
<text x="361.8" y="320.2" font-size="21.5" fill="#4c4c4c" font-weight="normal" font-style="italic" text-anchor="start" textLength="179" lengthAdjust="spacingAndGlyphs" >neg. charge linear fit</text>
<rect x="302.1" y="607.1" width="65" height="81.6" rx="10" fill="#dcdcdc"/>
<polyline points="81.5,670.9 85.8,670.1 90.2,675.5 94.5,676.3 98.9,672.8 103.2,668.2 107.6,669.9 111.9,672.9 116.3,671.4 120.6,668.9 125.0,665.9 129.3,667.6 133.7,665.0 138.0,659.9 142.3,654.9 146.7,657.7 151.0,659.2 155.4,661.7 159.7,660.3 164.1,666.2 168.4,666.4 172.8,673.4 177.1,670.7 181.5,674.4 185.8,678.4 190.2,681.0 194.5,685.6 198.9,694.7 203.2,696.7 207.5,705.6 211.9,714.7 216.2,719.4 220.6,731.9 224.9,728.4 229.3,726.4 233.6,718.9 238.0,712.5 242.3,702.3 246.7,695.0 251.0,693.4 255.4,686.0 259.7,682.2 264.0,672.5 268.4,677.6 272.7,675.4 277.1,678.5 281.4,677.0 285.8,674.9 290.1,670.1 294.5,669.1 298.8,669.3 303.2,670.5 307.5,662.3 311.9,666.6 316.2,659.9 320.6,642.5 324.9,633.8 329.2,625.6 333.6,616.6 337.9,612.4 342.3,611.8 346.6,619.5 351.0,628.4 355.3,639.4 359.7,645.5 364.0,655.7 368.4,669.1 372.7,669.3 377.1,671.1 381.4,671.6 385.7,679.0 390.1,678.0 394.4,677.4 398.8,677.7 403.1,683.3 407.5,680.6 411.8,692.9 416.2,692.9 420.5,700.9 424.9,707.0 429.2,710.6 433.6,716.0 437.9,721.1 442.2,724.5 446.6,721.2 450.9,720.7 455.3,706.6 459.6,707.3 464.0,704.1 468.3,691.3 472.7,687.9 477.0,687.1 481.4,680.6 485.7,683.0 490.1,681.5 494.4,677.9 498.8,677.1" fill="none" stroke="#f4895f" stroke-width="1.6" stroke-linejoin="round" stroke-linecap="round" opacity="0.95" />
<polyline points="81.5,673.8 85.8,669.3 90.1,671.9 94.4,673.8 98.7,676.4 103.0,672.0 107.3,671.7 111.6,670.4 116.0,667.7 120.3,670.2 124.6,667.5 128.9,665.7 133.2,665.0 137.5,657.6 141.8,664.5 146.1,660.3 150.4,664.3 154.7,663.0 159.0,658.0 163.3,669.6 167.6,668.8 171.9,669.1 176.2,672.2 180.5,672.0 184.9,680.4 189.2,677.0 193.5,686.6 197.8,692.7 202.1,692.3 206.4,699.8 210.7,710.9 215.0,715.4 219.3,718.6 223.6,720.5 227.9,717.6 232.2,716.7 236.5,714.2 240.8,697.7 245.1,693.6 249.5,693.7 253.8,690.1 258.1,683.2 262.4,678.9 266.7,682.0 271.0,672.7 275.3,673.9 279.6,674.7 283.9,672.5 288.2,671.9 292.5,668.9 296.8,670.0 301.1,666.6 305.4,664.3 309.7,666.0 314.1,664.2 318.4,657.9 322.7,647.5 327.0,643.7 331.3,637.3 335.6,631.2 339.9,626.9 344.2,634.7 348.5,634.8 352.8,642.7 357.1,646.6 361.4,655.5 365.7,666.9 370.0,665.7 374.3,673.5 378.6,670.3 383.0,675.4 387.3,672.5 391.6,675.7 395.9,676.7 400.2,675.9 404.5,681.4 408.8,682.7 413.1,692.0 417.4,694.7 421.7,702.6 426.0,706.7 430.3,711.8 434.6,717.3 438.9,722.4 443.2,719.1 447.6,715.7 451.9,714.5 456.2,710.1 460.5,702.6 464.8,697.1 469.1,699.7 473.4,690.9 477.7,682.0 482.0,685.1 486.3,681.5 490.6,676.1 494.9,677.3 499.2,675.8 503.5,677.7 507.8,679.9 512.2,669.1" fill="none" stroke="#fdd088" stroke-width="1.6" stroke-linejoin="round" stroke-linecap="round" opacity="0.95" />
<polyline points="81.5,672.0 85.8,672.6 90.2,669.9 94.5,672.3 98.9,673.5 103.2,674.9 107.6,671.3 111.9,670.6 116.3,671.2 120.6,670.9 124.9,670.5 129.3,667.9 133.6,667.5 138.0,662.9 142.3,659.7 146.7,661.3 151.0,662.7 155.4,659.7 159.7,662.6 164.0,669.6 168.4,670.3 172.7,670.6 177.1,674.8 181.4,673.0 185.8,681.3 190.1,684.2 194.5,681.8 198.8,686.9 203.1,695.3 207.5,697.9 211.8,701.0 216.2,709.9 220.5,713.8 224.9,714.1 229.2,710.8 233.6,710.1 237.9,701.7 242.2,697.6 246.6,689.5 250.9,681.8 255.3,685.8 259.6,677.5 264.0,674.7 268.3,682.1 272.7,675.3 277.0,674.5 281.3,674.5 285.7,671.2 290.0,673.1 294.4,670.1 298.7,670.9 303.1,669.4 307.4,668.6 311.8,658.9 316.1,660.8 320.4,655.2 324.8,641.0 329.1,638.3 333.5,637.4 337.8,633.9 342.2,634.2 346.5,634.3 350.9,643.0 355.2,647.4 359.5,649.9 363.9,660.3 368.2,665.5 372.6,663.4 376.9,669.5 381.3,671.8 385.6,674.9 390.0,673.8 394.3,678.3 398.6,676.7 403.0,677.4 407.3,683.7 411.7,689.5 416.0,687.9 420.4,692.7 424.7,695.8 429.1,703.0 433.4,702.4 437.7,703.8 442.1,701.1 446.4,700.9 450.8,702.8 455.1,696.4 459.5,696.3 463.8,688.3 468.2,689.1 472.5,683.8 476.8,683.6 481.2,682.7 485.5,682.8 489.9,677.3 494.2,679.0 498.6,676.5 502.9,676.3 507.3,681.7 511.6,674.6 515.9,676.0 520.3,673.6" fill="none" stroke="#a9dca6" stroke-width="1.7" stroke-linejoin="round" stroke-linecap="round" opacity="0.95" />
<polyline points="81.5,671.8 85.8,676.7 90.2,674.4 94.5,674.4 98.9,672.9 103.2,670.5 107.6,672.3 111.9,670.7 116.3,668.4 120.6,672.5 124.9,664.5 129.3,669.5 133.6,664.0 138.0,664.9 142.3,660.2 146.7,661.6 151.0,663.7 155.4,667.0 159.7,663.9 164.0,665.5 168.4,667.6 172.7,673.6 177.1,674.4 181.4,676.3 185.8,676.6 190.1,680.9 194.5,682.8 198.8,683.9 203.1,689.0 207.5,690.5 211.8,697.3 216.2,700.6 220.5,700.9 224.9,702.2 229.2,701.6 233.6,700.4 237.9,695.2 242.2,689.5 246.6,684.5 250.9,684.2 255.3,683.1 259.6,681.7 264.0,676.9 268.3,675.9 272.7,673.4 277.0,675.5 281.3,676.2 285.7,671.4 290.0,672.4 294.4,673.4 298.7,666.8 303.1,667.4 307.4,666.6 311.8,663.8 316.1,662.7 320.4,652.9 324.8,650.2 329.1,647.1 333.5,642.4 337.8,639.9 342.2,635.8 346.5,638.7 350.9,644.9 355.2,653.5 359.5,655.1 363.9,662.0 368.2,664.7 372.6,672.1 376.9,675.8 381.3,675.7 385.6,674.0 390.0,677.2 394.3,673.6 398.6,680.6 403.0,679.7 407.3,682.4 411.7,686.7 416.0,685.1 420.4,692.6 424.7,696.2 429.1,698.4 433.4,700.4 437.7,699.3 442.1,703.1 446.4,699.7 450.8,700.4 455.1,693.7 459.5,692.1 463.8,688.4 468.2,690.8 472.5,684.3 476.8,684.9 481.2,680.3 485.5,680.2 489.9,679.2 494.2,676.9 498.6,677.4 502.9,679.2 507.3,676.6 511.6,675.7 515.9,677.5 520.3,673.3" fill="none" stroke="#16b8a6" stroke-width="2.5" stroke-linejoin="round" stroke-linecap="round" opacity="0.95" />
<polyline points="81.5,669.9 85.8,672.7 90.2,673.5 94.5,673.3 98.9,671.5 103.2,673.4 107.6,669.1 111.9,671.7 116.3,668.6 120.6,667.8 124.9,670.6 129.3,666.3 133.6,666.5 138.0,669.2 142.3,665.9 146.7,665.9 151.0,666.0 155.4,663.0 159.7,665.7 164.0,666.1 168.4,670.8 172.7,671.6 177.1,669.2 181.4,674.0 185.8,680.2 190.1,680.7 194.5,681.9 198.8,687.4 203.1,684.4 207.5,690.5 211.8,694.3 216.2,696.0 220.5,699.8 224.9,700.8 229.2,702.9 233.6,698.5 237.9,691.5 242.2,686.6 246.6,685.5 250.9,687.1 255.3,681.8 259.6,678.7 264.0,680.0 268.3,674.0 272.7,677.8 277.0,674.5 281.3,675.8 285.7,671.3 290.0,674.6 294.4,672.7 298.7,667.8 303.1,671.6 307.4,667.8 311.8,663.3 316.1,661.9 320.4,663.0 324.8,655.9 329.1,655.5 333.5,649.4 337.8,652.2 342.2,647.4 346.5,651.1 350.9,655.8 355.2,658.0 359.5,659.0 363.9,664.4 368.2,666.2 372.6,669.5 376.9,671.3 381.3,673.4 385.6,679.0 390.0,676.8 394.3,677.4 398.6,676.0 403.0,681.1 407.3,679.0 411.7,684.5 416.0,684.3 420.4,687.0 424.7,690.1 429.1,694.2 433.4,696.9 437.7,693.6 442.1,694.1 446.4,696.2 450.8,695.3 455.1,692.8 459.5,691.7 463.8,688.7 468.2,684.8 472.5,682.5 476.8,683.4 481.2,683.7 485.5,683.3 489.9,681.5 494.2,677.8 498.6,678.1 502.9,680.3 507.3,679.2 511.6,675.4 515.9,674.6 520.3,671.1" fill="none" stroke="#167f90" stroke-width="2.6" stroke-linejoin="round" stroke-linecap="round" opacity="0.95" />
<rect x="302.1" y="607.1" width="65" height="81.6" rx="10" fill="none" stroke="#ee1c24" stroke-width="2.8"/>
<rect x="81.3" y="598.9" width="478.7" height="148.60000000000002" fill="none" stroke="#555" stroke-width="1.5"/>
<path d="M81.50,747.50v5M81.50,598.90v5M177.20,747.50v5M177.20,598.90v5M272.90,747.50v5M272.90,598.90v5M368.60,747.50v5M368.60,598.90v5M464.30,747.50v5M464.30,598.90v5M560.00,747.50v5M560.00,598.90v5M129.35,747.50v3M129.35,598.90v3M225.05,747.50v3M225.05,598.90v3M320.75,747.50v3M320.75,598.90v3M416.45,747.50v3M416.45,598.90v3M512.15,747.50v3M512.15,598.90v3M81.30,736.71h-5M560.00,736.71h-5M81.30,707.10h-5M560.00,707.10h-5M81.30,677.50h-5M560.00,677.50h-5M81.30,647.90h-5M560.00,647.90h-5M81.30,618.29h-5M560.00,618.29h-5M81.30,721.90h-3M560.00,721.90h-3M81.30,692.30h-3M560.00,692.30h-3M81.30,662.70h-3M560.00,662.70h-3M81.30,633.10h-3M560.00,633.10h-3M81.30,603.49h-3M560.00,603.49h-3M81.30,751.51h-3M560.00,751.51h-3" stroke="#555" stroke-width="1.5" fill="none"/>
<text x="81.5" y="768.3" font-size="17" fill="#222" font-weight="normal" font-style="normal" text-anchor="middle" textLength="10.3" lengthAdjust="spacingAndGlyphs" >0</text>
<text x="177.2" y="768.3" font-size="17" fill="#222" font-weight="normal" font-style="normal" text-anchor="middle" textLength="10.3" lengthAdjust="spacingAndGlyphs" >2</text>
<text x="272.9" y="768.3" font-size="17" fill="#222" font-weight="normal" font-style="normal" text-anchor="middle" textLength="10.3" lengthAdjust="spacingAndGlyphs" >4</text>
<text x="368.6" y="768.3" font-size="17" fill="#222" font-weight="normal" font-style="normal" text-anchor="middle" textLength="10.3" lengthAdjust="spacingAndGlyphs" >6</text>
<text x="464.3" y="768.3" font-size="17" fill="#222" font-weight="normal" font-style="normal" text-anchor="middle" textLength="10.3" lengthAdjust="spacingAndGlyphs" >8</text>
<text x="560.0" y="768.3" font-size="17" fill="#222" font-weight="normal" font-style="normal" text-anchor="middle" textLength="20.6" lengthAdjust="spacingAndGlyphs" >10</text>
<text x="72.3" y="623.3" font-size="16" fill="#222" font-weight="normal" font-style="normal" text-anchor="end" textLength="26.700000000000003" lengthAdjust="spacingAndGlyphs" >150</text>
<text x="72.3" y="652.9" font-size="16" fill="#222" font-weight="normal" font-style="normal" text-anchor="end" textLength="17.8" lengthAdjust="spacingAndGlyphs" >75</text>
<text x="72.3" y="682.5" font-size="16" fill="#222" font-weight="normal" font-style="normal" text-anchor="end" textLength="8.9" lengthAdjust="spacingAndGlyphs" >0</text>
<text x="72.3" y="712.1" font-size="16" fill="#222" font-weight="normal" font-style="normal" text-anchor="end" textLength="23.3" lengthAdjust="spacingAndGlyphs" >-75</text>
<text x="72.3" y="741.7" font-size="16" fill="#222" font-weight="normal" font-style="normal" text-anchor="end" textLength="32.2" lengthAdjust="spacingAndGlyphs" >-150</text>
<text x="0.0" y="0.0" font-size="20" fill="#222" font-weight="normal" font-style="normal" text-anchor="middle" textLength="101" lengthAdjust="spacingAndGlyphs" transform="translate(40.2 676.3) rotate(-90)">Current (fA)</text>
<text x="100.0" y="627.0" font-size="19.5" fill="#111" font-weight="normal" font-style="normal" text-anchor="start" >HfO<tspan font-size="13" dy="7">2</tspan></text>
<rect x="471.5" y="603.2" width="81" height="71.8" fill="#fff" fill-opacity="0.85" stroke="#bbb" stroke-width="1"/>
<line x1="473.4" x2="498.8" y1="610.6" y2="610.6" stroke="#f4895f" stroke-width="1.6"/>
<text x="503.7" y="614.4" font-size="11" fill="#333" font-weight="normal" font-style="normal" text-anchor="start" textLength="46" lengthAdjust="spacingAndGlyphs" >1st scan</text>
<line x1="473.4" x2="498.8" y1="625.2" y2="625.2" stroke="#fdd088" stroke-width="1.6"/>
<text x="503.7" y="629.0" font-size="11" fill="#333" font-weight="normal" font-style="normal" text-anchor="start" textLength="46" lengthAdjust="spacingAndGlyphs" >2nd scan</text>
<line x1="473.4" x2="498.8" y1="639.5" y2="639.5" stroke="#a9dca6" stroke-width="1.7"/>
<text x="503.7" y="643.3" font-size="11" fill="#333" font-weight="normal" font-style="normal" text-anchor="start" textLength="46" lengthAdjust="spacingAndGlyphs" >3rd scan</text>
<line x1="473.4" x2="498.8" y1="653.5" y2="653.5" stroke="#16b8a6" stroke-width="2.5"/>
<text x="503.7" y="657.3" font-size="11" fill="#333" font-weight="normal" font-style="normal" text-anchor="start" textLength="46" lengthAdjust="spacingAndGlyphs" >4th scan</text>
<line x1="473.4" x2="498.8" y1="668.2" y2="668.2" stroke="#167f90" stroke-width="2.6"/>
<text x="503.7" y="672.0" font-size="11" fill="#333" font-weight="normal" font-style="normal" text-anchor="start" textLength="46" lengthAdjust="spacingAndGlyphs" >5th scan</text>
<text x="97.0" y="574.8" font-size="28" fill="#333" font-weight="normal" font-style="italic" text-anchor="start" textLength="438" lengthAdjust="spacingAndGlyphs" >Time-dependent piezogenerated charge</text>
<line x1="335.9" x2="335.9" y1="582" y2="606" stroke="#333" stroke-width="1.4"/>
<rect x="155" y="802.4" width="66.4" height="82.6" rx="10" fill="#dcdcdc"/>
<polyline points="82.8,861.3 85.2,860.9 87.6,860.2 90.1,861.6 92.5,862.3 94.9,863.0 97.3,860.7 99.7,861.4 102.1,861.7 104.6,861.9 107.0,863.3 109.4,860.8 111.8,862.0 114.2,861.3 116.6,859.9 119.1,861.8 121.5,861.3 123.9,859.8 126.3,860.5 128.7,859.7 131.1,860.7 133.6,860.3 136.0,860.7 138.4,857.8 140.8,857.3 143.2,858.8 145.6,858.3 148.1,858.4 150.5,855.1 152.9,856.6 155.3,856.2 157.7,853.8 160.1,853.5 162.6,856.4 165.0,855.1 167.4,854.4 169.8,853.9 172.2,852.5 174.6,850.2 177.1,848.8 179.5,847.4 181.9,844.1 184.3,841.9 186.7,838.7 189.1,835.1 191.6,830.1 194.0,821.4 196.4,816.0 198.8,823.7 201.2,833.0 203.7,843.9 206.1,855.1 208.5,860.2 210.9,863.0 213.3,863.4 215.7,863.2 218.2,864.4 220.6,864.7 223.0,864.8 225.4,863.7 227.8,865.6 230.2,864.3 232.7,864.1 235.1,863.6 237.5,865.0 239.9,863.9 242.3,864.0 244.7,864.6 247.2,864.0 249.6,864.3 252.0,865.2 254.4,864.5 256.8,865.1 259.2,862.4 261.7,864.5 264.1,864.9 266.5,865.7 268.9,864.3 271.3,864.0 273.7,864.3 276.2,865.7 278.6,865.4 281.0,865.4 283.4,864.2 285.8,865.2 288.2,864.5 290.7,862.6 293.1,866.2 295.5,864.6 297.9,864.4 300.3,865.9 302.7,863.3 305.2,864.6 307.6,864.0 310.0,863.8 312.4,863.0 314.8,865.0 317.2,865.0 319.7,865.6 322.1,865.6 324.5,862.6 326.9,864.8 329.3,866.1 331.8,863.7 334.2,862.6 336.6,865.3 339.0,864.4 341.4,865.7 343.8,866.4 346.3,864.6 348.7,865.5 351.1,865.6 353.5,864.4 355.9,864.0 358.3,864.7 360.8,863.2 363.2,865.1 365.6,864.8 368.0,863.6 370.4,862.3 372.8,862.6 375.3,863.6 377.7,864.5 380.1,866.0 382.5,863.2 384.9,864.8 387.3,862.4 389.8,864.7 392.2,866.7 394.6,863.7 397.0,864.7 399.4,865.4 401.8,864.7 404.3,864.9 406.7,864.6 409.1,866.7 411.5,864.9 413.9,864.5 416.3,866.2 418.8,863.7 421.2,865.2 423.6,867.1 426.0,863.5 428.4,865.6 430.8,865.2 433.3,865.6 435.7,863.6 438.1,865.6 440.5,866.4 442.9,866.5 445.4,865.4 447.8,865.5 450.2,866.8 452.6,865.3 455.0,867.1 457.4,866.3 459.9,866.0 462.3,866.4 464.7,866.5 467.1,866.5 469.5,867.4 471.9,866.9 474.4,867.0 476.8,869.0 479.2,869.5 481.6,868.2 484.0,868.9 486.4,869.0 488.9,868.6 491.3,870.0 493.7,872.4 496.1,872.8 498.5,875.0 500.9,875.9 503.4,881.4 505.8,887.2 508.2,891.1 510.6,892.4 513.0,896.5 515.4,900.2 517.9,896.7 520.3,887.1 522.7,878.4 525.1,871.7 527.5,860.0 529.9,857.0 532.4,860.1 534.8,860.3 537.2,859.1 539.6,856.6 542.0,857.4 544.4,857.8 546.9,857.5 549.3,858.9 551.7,857.4 554.1,858.5 556.5,857.8 558.9,859.0 561.4,860.0 563.8,860.7 566.2,860.1" fill="none" stroke="#f4895f" stroke-width="1.6" stroke-linejoin="round" stroke-linecap="round" opacity="0.95" />
<polyline points="82.8,858.1 85.2,861.9 87.6,859.8 90.1,861.2 92.5,859.6 94.9,860.2 97.3,862.0 99.7,860.9 102.1,859.5 104.6,859.1 107.0,861.2 109.4,861.7 111.8,860.6 114.2,859.7 116.6,860.2 119.1,860.9 121.5,860.5 123.9,860.0 126.3,860.0 128.7,860.6 131.1,858.7 133.6,858.8 136.0,858.1 138.4,858.7 140.8,858.9 143.2,857.4 145.6,857.2 148.1,856.1 150.5,859.0 152.9,858.0 155.3,856.2 157.7,852.3 160.1,857.1 162.6,854.4 165.0,856.5 167.4,856.0 169.8,853.1 172.2,852.4 174.6,854.5 177.1,850.1 179.5,847.0 181.9,842.5 184.3,836.0 186.7,832.7 189.1,825.1 191.6,821.8 194.0,826.0 196.4,833.3 198.8,843.8 201.2,856.4 203.7,859.1 206.1,863.8 208.5,861.6 210.9,861.7 213.3,864.6 215.7,863.6 218.2,864.4 220.6,865.6 223.0,863.3 225.4,863.8 227.8,862.6 230.2,862.3 232.7,865.6 235.1,864.3 237.5,863.6 239.9,863.2 242.3,863.9 244.7,864.9 247.2,864.4 249.6,863.5 252.0,865.5 254.4,865.6 256.8,865.5 259.2,865.0 261.7,863.0 264.1,864.8 266.5,863.7 268.9,863.1 271.3,863.2 273.7,864.2 276.2,864.6 278.6,864.5 281.0,864.8 283.4,865.2 285.8,864.0 288.2,863.6 290.7,865.0 293.1,865.4 295.5,864.5 297.9,864.4 300.3,863.7 302.7,864.3 305.2,864.4 307.6,866.0 310.0,864.9 312.4,864.8 314.8,865.1 317.2,864.0 319.7,864.5 322.1,865.2 324.5,864.1 326.9,863.3 329.3,862.1 331.8,864.5 334.2,864.9 336.6,863.6 339.0,862.8 341.4,865.0 343.8,863.8 346.3,864.7 348.7,863.6 351.1,865.2 353.5,864.9 355.9,864.8 358.3,864.7 360.8,865.8 363.2,864.8 365.6,865.4 368.0,862.8 370.4,863.3 372.8,865.2 375.3,865.1 377.7,864.3 380.1,865.3 382.5,865.3 384.9,864.1 387.3,863.7 389.8,864.4 392.2,863.5 394.6,864.8 397.0,865.0 399.4,865.3 401.8,865.4 404.3,865.8 406.7,863.6 409.1,864.1 411.5,865.2 413.9,865.0 416.3,865.9 418.8,864.5 421.2,865.3 423.6,865.3 426.0,865.5 428.4,866.8 430.8,865.9 433.3,864.0 435.7,866.4 438.1,866.6 440.5,866.1 442.9,866.8 445.4,867.0 447.8,867.3 450.2,867.2 452.6,866.4 455.0,868.8 457.4,868.0 459.9,868.0 462.3,866.8 464.7,867.8 467.1,866.5 469.5,867.8 471.9,866.1 474.4,869.2 476.8,866.0 479.2,869.5 481.6,868.9 484.0,870.0 486.4,869.5 488.9,868.0 491.3,869.7 493.7,872.5 496.1,872.9 498.5,872.7 500.9,877.1 503.4,882.8 505.8,886.9 508.2,890.1 510.6,894.4 513.0,896.2 515.4,898.3 517.9,894.4 520.3,886.1 522.7,879.1 525.1,873.2 527.5,862.4 529.9,860.3 532.4,858.5 534.8,859.0 537.2,857.5 539.6,858.2 542.0,858.1 544.4,857.7 546.9,857.0 549.3,858.1 551.7,858.2 554.1,857.5 556.5,855.0 558.9,859.4 561.4,860.4 563.8,859.9 566.2,862.2" fill="none" stroke="#fdd088" stroke-width="1.6" stroke-linejoin="round" stroke-linecap="round" opacity="0.95" />
<polyline points="82.8,859.6 85.2,861.4 87.6,860.9 90.1,861.1 92.5,862.0 94.9,860.9 97.3,861.3 99.7,860.1 102.1,860.4 104.6,861.3 107.0,860.0 109.4,860.2 111.8,860.8 114.2,860.9 116.6,860.2 119.1,862.0 121.5,859.8 123.9,860.4 126.3,859.6 128.7,858.7 131.1,856.9 133.6,860.2 136.0,860.4 138.4,857.6 140.8,858.8 143.2,858.2 145.6,859.6 148.1,856.8 150.5,857.4 152.9,859.2 155.3,855.1 157.7,854.6 160.1,855.4 162.6,857.1 165.0,853.9 167.4,855.9 169.8,853.4 172.2,853.9 174.6,852.4 177.1,847.9 179.5,846.4 181.9,841.5 184.3,837.6 186.7,831.1 189.1,823.4 191.6,817.1 194.0,826.0 196.4,833.1 198.8,843.8 201.2,858.0 203.7,860.7 206.1,861.7 208.5,862.8 210.9,863.2 213.3,863.0 215.7,862.6 218.2,865.5 220.6,864.5 223.0,864.8 225.4,865.3 227.8,863.0 230.2,864.9 232.7,863.9 235.1,863.4 237.5,862.9 239.9,865.5 242.3,865.6 244.7,866.0 247.2,863.8 249.6,865.1 252.0,863.8 254.4,863.3 256.8,862.4 259.2,865.3 261.7,864.2 264.1,864.3 266.5,866.4 268.9,863.7 271.3,863.0 273.7,865.7 276.2,863.8 278.6,864.1 281.0,864.3 283.4,865.5 285.8,865.5 288.2,862.1 290.7,863.3 293.1,864.3 295.5,863.3 297.9,865.5 300.3,863.8 302.7,864.9 305.2,867.0 307.6,865.5 310.0,863.7 312.4,863.6 314.8,863.8 317.2,864.5 319.7,864.2 322.1,866.1 324.5,864.6 326.9,861.4 329.3,864.3 331.8,864.9 334.2,862.4 336.6,864.6 339.0,864.7 341.4,864.4 343.8,864.1 346.3,865.7 348.7,864.4 351.1,864.8 353.5,866.2 355.9,864.2 358.3,864.6 360.8,865.1 363.2,865.0 365.6,863.6 368.0,867.5 370.4,863.8 372.8,864.6 375.3,864.7 377.7,865.1 380.1,865.1 382.5,863.9 384.9,865.7 387.3,863.0 389.8,866.1 392.2,864.3 394.6,865.1 397.0,863.3 399.4,864.2 401.8,866.6 404.3,864.6 406.7,865.9 409.1,864.6 411.5,865.1 413.9,866.0 416.3,866.0 418.8,865.0 421.2,865.2 423.6,865.4 426.0,866.4 428.4,864.9 430.8,866.2 433.3,867.4 435.7,867.3 438.1,863.8 440.5,866.0 442.9,866.8 445.4,866.9 447.8,866.5 450.2,866.3 452.6,866.5 455.0,865.7 457.4,867.1 459.9,866.2 462.3,866.7 464.7,867.2 467.1,866.2 469.5,866.4 471.9,867.9 474.4,866.7 476.8,868.2 479.2,869.5 481.6,866.5 484.0,867.4 486.4,871.0 488.9,869.1 491.3,870.2 493.7,872.2 496.1,874.2 498.5,874.0 500.9,877.4 503.4,882.8 505.8,886.5 508.2,892.0 510.6,895.8 513.0,896.2 515.4,899.0 517.9,899.9 520.3,888.8 522.7,877.1 525.1,871.7 527.5,860.9 529.9,857.6 532.4,858.4 534.8,859.3 537.2,856.6 539.6,857.8 542.0,859.2 544.4,859.2 546.9,857.8 549.3,859.4 551.7,855.4 554.1,857.0 556.5,857.2 558.9,859.0 561.4,859.0 563.8,862.5 566.2,861.5" fill="none" stroke="#a9dca6" stroke-width="1.7" stroke-linejoin="round" stroke-linecap="round" opacity="0.95" />
<polyline points="82.8,859.7 85.2,861.7 87.6,861.6 90.1,862.2 92.5,860.3 94.9,860.4 97.3,861.5 99.7,860.6 102.1,861.2 104.6,862.4 107.0,861.7 109.4,861.5 111.8,860.5 114.2,861.3 116.6,860.3 119.1,862.1 121.5,860.4 123.9,860.6 126.3,858.8 128.7,859.6 131.1,858.7 133.6,861.4 136.0,858.5 138.4,858.8 140.8,857.8 143.2,858.0 145.6,859.4 148.1,856.0 150.5,855.9 152.9,857.2 155.3,854.7 157.7,854.4 160.1,853.0 162.6,856.3 165.0,854.7 167.4,854.6 169.8,855.5 172.2,853.6 174.6,850.6 177.1,849.9 179.5,847.6 181.9,842.2 184.3,837.5 186.7,831.0 189.1,822.7 191.6,816.4 194.0,825.6 196.4,833.4 198.8,845.7 201.2,854.4 203.7,861.4 206.1,863.0 208.5,863.7 210.9,862.8 213.3,864.3 215.7,861.9 218.2,863.3 220.6,863.7 223.0,862.4 225.4,862.8 227.8,863.8 230.2,865.0 232.7,863.7 235.1,863.6 237.5,864.7 239.9,863.5 242.3,864.4 244.7,863.3 247.2,864.3 249.6,865.2 252.0,866.3 254.4,865.0 256.8,866.0 259.2,862.1 261.7,863.0 264.1,862.9 266.5,864.0 268.9,863.6 271.3,865.9 273.7,864.6 276.2,865.8 278.6,863.7 281.0,864.5 283.4,862.9 285.8,865.4 288.2,864.0 290.7,863.4 293.1,864.9 295.5,864.2 297.9,863.3 300.3,866.0 302.7,864.4 305.2,864.7 307.6,864.7 310.0,866.7 312.4,864.9 314.8,866.7 317.2,862.9 319.7,864.8 322.1,864.5 324.5,865.3 326.9,864.3 329.3,865.3 331.8,864.5 334.2,863.5 336.6,864.5 339.0,864.2 341.4,864.0 343.8,863.8 346.3,864.4 348.7,864.2 351.1,864.6 353.5,866.3 355.9,865.2 358.3,863.1 360.8,864.3 363.2,864.7 365.6,865.7 368.0,865.2 370.4,863.6 372.8,862.7 375.3,864.2 377.7,865.8 380.1,866.5 382.5,865.1 384.9,862.8 387.3,864.1 389.8,865.6 392.2,864.9 394.6,864.9 397.0,863.6 399.4,863.4 401.8,863.8 404.3,866.7 406.7,863.8 409.1,863.3 411.5,865.5 413.9,864.4 416.3,864.6 418.8,866.7 421.2,866.8 423.6,865.8 426.0,865.8 428.4,864.8 430.8,866.4 433.3,866.4 435.7,866.1 438.1,864.3 440.5,866.2 442.9,864.8 445.4,865.1 447.8,866.6 450.2,865.9 452.6,867.1 455.0,866.4 457.4,865.9 459.9,866.8 462.3,866.8 464.7,866.8 467.1,867.3 469.5,865.5 471.9,868.6 474.4,867.4 476.8,869.0 479.2,868.8 481.6,868.6 484.0,866.6 486.4,869.3 488.9,869.6 491.3,870.1 493.7,872.4 496.1,874.6 498.5,873.6 500.9,877.2 503.4,882.8 505.8,887.6 508.2,889.4 510.6,895.8 513.0,903.2 515.4,909.2 517.9,908.6 520.3,890.1 522.7,878.9 525.1,871.1 527.5,863.7 529.9,857.9 532.4,858.8 534.8,858.4 537.2,856.7 539.6,857.3 542.0,859.6 544.4,858.5 546.9,858.0 549.3,858.0 551.7,858.4 554.1,857.5 556.5,858.1 558.9,859.3 561.4,858.7 563.8,861.3 566.2,861.0" fill="none" stroke="#16b8a6" stroke-width="2.5" stroke-linejoin="round" stroke-linecap="round" opacity="0.95" />
<polyline points="82.8,861.5 85.2,860.4 87.6,859.8 90.1,859.2 92.5,862.0 94.9,862.9 97.3,862.4 99.7,861.6 102.1,860.2 104.6,862.0 107.0,860.9 109.4,858.8 111.8,860.6 114.2,860.3 116.6,860.7 119.1,862.3 121.5,859.8 123.9,858.9 126.3,860.3 128.7,859.9 131.1,860.0 133.6,858.5 136.0,859.3 138.4,857.1 140.8,858.3 143.2,857.8 145.6,857.3 148.1,858.9 150.5,859.8 152.9,857.3 155.3,856.8 157.7,856.3 160.1,855.3 162.6,854.6 165.0,856.3 167.4,854.0 169.8,854.6 172.2,853.6 174.6,853.6 177.1,849.8 179.5,847.0 181.9,842.2 184.3,838.5 186.7,832.1 189.1,822.9 191.6,819.9 194.0,826.9 196.4,834.6 198.8,846.0 201.2,855.9 203.7,862.0 206.1,862.4 208.5,864.3 210.9,863.6 213.3,864.0 215.7,863.7 218.2,864.4 220.6,864.3 223.0,863.9 225.4,863.3 227.8,863.9 230.2,865.0 232.7,865.0 235.1,864.6 237.5,864.8 239.9,864.5 242.3,864.2 244.7,862.4 247.2,864.2 249.6,864.7 252.0,863.6 254.4,863.5 256.8,864.0 259.2,865.1 261.7,864.1 264.1,863.3 266.5,865.8 268.9,864.4 271.3,864.8 273.7,863.5 276.2,862.8 278.6,864.6 281.0,864.2 283.4,863.3 285.8,862.8 288.2,862.2 290.7,864.6 293.1,862.2 295.5,864.3 297.9,863.7 300.3,864.9 302.7,863.7 305.2,865.0 307.6,863.6 310.0,864.8 312.4,864.2 314.8,865.5 317.2,865.5 319.7,864.3 322.1,863.9 324.5,863.8 326.9,864.3 329.3,865.8 331.8,864.6 334.2,862.7 336.6,865.1 339.0,864.0 341.4,863.8 343.8,864.3 346.3,864.1 348.7,863.2 351.1,864.2 353.5,861.8 355.9,865.2 358.3,863.7 360.8,864.4 363.2,865.7 365.6,863.0 368.0,863.7 370.4,863.9 372.8,863.4 375.3,865.9 377.7,864.1 380.1,863.6 382.5,864.9 384.9,865.2 387.3,863.8 389.8,865.9 392.2,865.4 394.6,864.2 397.0,863.0 399.4,863.7 401.8,864.4 404.3,863.7 406.7,865.4 409.1,866.3 411.5,864.8 413.9,865.8 416.3,865.4 418.8,865.6 421.2,865.5 423.6,866.7 426.0,866.7 428.4,864.9 430.8,865.4 433.3,865.6 435.7,865.4 438.1,865.0 440.5,866.4 442.9,867.6 445.4,865.7 447.8,863.9 450.2,865.9 452.6,865.3 455.0,866.0 457.4,867.2 459.9,866.4 462.3,866.9 464.7,867.3 467.1,865.0 469.5,867.2 471.9,867.5 474.4,868.6 476.8,867.7 479.2,865.9 481.6,868.1 484.0,866.6 486.4,868.8 488.9,869.9 491.3,871.8 493.7,872.4 496.1,872.8 498.5,876.8 500.9,877.5 503.4,881.5 505.8,886.6 508.2,892.6 510.6,894.8 513.0,897.8 515.4,902.9 517.9,898.6 520.3,888.7 522.7,879.1 525.1,871.7 527.5,862.0 529.9,858.9 532.4,858.3 534.8,858.2 537.2,859.9 539.6,857.6 542.0,857.7 544.4,859.3 546.9,858.4 549.3,857.1 551.7,858.5 554.1,857.3 556.5,859.5 558.9,858.9 561.4,857.6 563.8,859.0 566.2,859.3" fill="none" stroke="#167f90" stroke-width="2.6" stroke-linejoin="round" stroke-linecap="round" opacity="0.95" />
<rect x="155" y="802.4" width="66.4" height="82.6" rx="10" fill="none" stroke="#ee1c24" stroke-width="2.8"/>
<rect x="82.6" y="786.0" width="483.6" height="149.79999999999995" fill="none" stroke="#555" stroke-width="1.5"/>
<path d="M82.80,935.80v5M82.80,786.00v5M203.65,935.80v5M203.65,786.00v5M324.50,935.80v5M324.50,786.00v5M445.35,935.80v5M445.35,786.00v5M566.20,935.80v5M566.20,786.00v5M143.22,935.80v3M143.22,786.00v3M264.07,935.80v3M264.07,786.00v3M384.93,935.80v3M384.93,786.00v3M505.78,935.80v3M505.78,786.00v3M82.60,935.22h-5M566.20,935.22h-5M82.60,910.38h-5M566.20,910.38h-5M82.60,885.54h-5M566.20,885.54h-5M82.60,860.70h-5M566.20,860.70h-5M82.60,835.86h-5M566.20,835.86h-5M82.60,811.02h-5M566.20,811.02h-5M82.60,786.18h-5M566.20,786.18h-5M82.60,922.80h-3M566.20,922.80h-3M82.60,897.96h-3M566.20,897.96h-3M82.60,873.12h-3M566.20,873.12h-3M82.60,848.28h-3M566.20,848.28h-3M82.60,823.44h-3M566.20,823.44h-3M82.60,798.60h-3M566.20,798.60h-3" stroke="#555" stroke-width="1.5" fill="none"/>
<text x="82.8" y="955.5" font-size="17" fill="#222" font-weight="normal" font-style="normal" text-anchor="middle" textLength="10.3" lengthAdjust="spacingAndGlyphs" >0</text>
<text x="203.7" y="955.5" font-size="17" fill="#222" font-weight="normal" font-style="normal" text-anchor="middle" textLength="10.3" lengthAdjust="spacingAndGlyphs" >5</text>
<text x="324.5" y="955.5" font-size="17" fill="#222" font-weight="normal" font-style="normal" text-anchor="middle" textLength="20.6" lengthAdjust="spacingAndGlyphs" >10</text>
<text x="445.4" y="955.5" font-size="17" fill="#222" font-weight="normal" font-style="normal" text-anchor="middle" textLength="20.6" lengthAdjust="spacingAndGlyphs" >15</text>
<text x="566.2" y="955.5" font-size="17" fill="#222" font-weight="normal" font-style="normal" text-anchor="middle" textLength="20.6" lengthAdjust="spacingAndGlyphs" >20</text>
<text x="74.3" y="791.2" font-size="16" fill="#222" font-weight="normal" font-style="normal" text-anchor="end" textLength="27.900000000000002" lengthAdjust="spacingAndGlyphs" >600</text>
<text x="74.3" y="816.0" font-size="16" fill="#222" font-weight="normal" font-style="normal" text-anchor="end" textLength="27.900000000000002" lengthAdjust="spacingAndGlyphs" >400</text>
<text x="74.3" y="840.9" font-size="16" fill="#222" font-weight="normal" font-style="normal" text-anchor="end" textLength="27.900000000000002" lengthAdjust="spacingAndGlyphs" >200</text>
<text x="74.3" y="865.7" font-size="16" fill="#222" font-weight="normal" font-style="normal" text-anchor="end" textLength="9.3" lengthAdjust="spacingAndGlyphs" >0</text>
<text x="74.3" y="890.5" font-size="16" fill="#222" font-weight="normal" font-style="normal" text-anchor="end" textLength="33.900000000000006" lengthAdjust="spacingAndGlyphs" >-200</text>
<text x="74.3" y="915.4" font-size="16" fill="#222" font-weight="normal" font-style="normal" text-anchor="end" textLength="33.900000000000006" lengthAdjust="spacingAndGlyphs" >-400</text>
<text x="74.3" y="940.2" font-size="16" fill="#222" font-weight="normal" font-style="normal" text-anchor="end" textLength="33.900000000000006" lengthAdjust="spacingAndGlyphs" >-600</text>
<rect x="30" y="770" width="50" height="13.5" fill="#fff"/>
<text x="0.0" y="0.0" font-size="20" fill="#222" font-weight="normal" font-style="normal" text-anchor="middle" textLength="102.4" lengthAdjust="spacingAndGlyphs" transform="translate(26.4 857.2) rotate(-90)">Current (fA)</text>
<text x="99.0" y="816.8" font-size="19.5" fill="#111" font-weight="normal" font-style="normal" text-anchor="start" >PPLN</text>
<rect x="355.3" y="787.3" width="80.1" height="72" fill="#fff" fill-opacity="0.85" stroke="#bbb" stroke-width="1"/>
<line x1="355.8" x2="381.7" y1="796.3" y2="796.3" stroke="#f4895f" stroke-width="1.6"/>
<text x="386.0" y="800.1" font-size="11" fill="#333" font-weight="normal" font-style="normal" text-anchor="start" textLength="46" lengthAdjust="spacingAndGlyphs" >1st scan</text>
<line x1="355.8" x2="381.7" y1="810.8" y2="810.8" stroke="#fdd088" stroke-width="1.6"/>
<text x="386.0" y="814.6" font-size="11" fill="#333" font-weight="normal" font-style="normal" text-anchor="start" textLength="46" lengthAdjust="spacingAndGlyphs" >2nd scan</text>
<line x1="355.8" x2="381.7" y1="824.9" y2="824.9" stroke="#a9dca6" stroke-width="1.7"/>
<text x="386.0" y="828.7" font-size="11" fill="#333" font-weight="normal" font-style="normal" text-anchor="start" textLength="46" lengthAdjust="spacingAndGlyphs" >3rd scan</text>
<line x1="355.8" x2="381.7" y1="839.4" y2="839.4" stroke="#16b8a6" stroke-width="2.5"/>
<text x="386.0" y="843.2" font-size="11" fill="#333" font-weight="normal" font-style="normal" text-anchor="start" textLength="46" lengthAdjust="spacingAndGlyphs" >4th scan</text>
<line x1="355.8" x2="381.7" y1="853.7" y2="853.7" stroke="#167f90" stroke-width="2.6"/>
<text x="386.0" y="857.5" font-size="11" fill="#333" font-weight="normal" font-style="normal" text-anchor="start" textLength="46" lengthAdjust="spacingAndGlyphs" >5th scan</text>
<line x1="204.4" x2="204.4" y1="887" y2="904" stroke="#333" stroke-width="1.4"/>
<text x="98.0" y="924.4" font-size="28" fill="#333" font-weight="normal" font-style="italic" text-anchor="start" textLength="414" lengthAdjust="spacingAndGlyphs" >Time-invariant piezogenerated charge</text>
<text x="226.6" y="991.0" font-size="28" fill="#444" font-weight="normal" font-style="normal" text-anchor="start" textLength="163" lengthAdjust="spacingAndGlyphs" >Distance (µm)</text>
<g clip-path="url(#cE1)"><g filter="url(#fldE)">
<rect x="657.5" y="684.8" width="298.5" height="263.0" fill="#8a8a8a"/>
<polygon points="657.5,684.8 706.0,684.8 720.0,809.4 657.5,809.4" fill="#8c8c8c" />
<polygon points="706.0,684.8 718.0,684.8 732.0,809.4 720.0,809.4" fill="url(#e1a)" />
<polygon points="718.0,684.8 878.0,684.8 892.0,809.4 732.0,809.4" fill="#787878" />
<polygon points="878.0,684.8 892.0,684.8 906.0,809.4 892.0,809.4" fill="url(#e1b)" />
<polygon points="892.0,684.8 956.0,684.8 956.0,809.4 906.0,809.4" fill="#888888" />
<polygon points="732.0,775.0 895.0,775.0 895.0,809.4 732.0,809.4" fill="#737373" opacity="0.6"/>
<polygon points="657.5,809.4 733.0,809.4 753.0,947.8 657.5,947.8" fill="#8c8c8c" />
<polygon points="733.0,809.4 900.0,809.4 919.0,947.8 753.0,947.8" fill="#747474" />
<polygon points="735.0,809.4 750.0,809.4 770.0,947.8 755.0,947.8" fill="url(#e1sh)" />
<polygon points="899.5,809.4 926.0,809.4 925.0,947.8 917.5,947.8" fill="url(#e1or)" />
<polygon points="926.0,809.4 956.0,809.4 956.0,947.8 925.0,947.8" fill="#8e8e8e" />
<path d="M732.8,809.4 L753,947.8" stroke="#1f1f1f" stroke-width="3.4"/>
</g></g>
<rect x="657.5" y="684.8" width="298.5" height="263.0" fill="none" stroke="#555" stroke-width="1.6"/>
<line x1="658.5" x2="955.0" y1="809.4" y2="809.4" stroke="#ee1f7d" stroke-width="2.8" stroke-dasharray="11 7.5"/>
<line x1="698" y1="918.5" x2="805" y2="892" stroke="#ff7a1a" stroke-width="2.8"/>
<path d="M689,913.7 L701.3,918.5 L691.7,926.4 Z" fill="#ff7a1a"/><path d="M808.9,884.9 L800.3,892.9 L812,896.6 Z" fill="#ff7a1a"/>
<text x="808.1" y="711.5" font-size="23" fill="#333" font-weight="normal" font-style="italic" text-anchor="start" textLength="116.4" lengthAdjust="spacingAndGlyphs" >PPLN -trace</text>
<text x="886.7" y="934.5" font-size="23.5" fill="#111" font-weight="normal" font-style="normal" text-anchor="start" textLength="59" lengthAdjust="spacingAndGlyphs" >5 µm</text>
<path d="M902.7,944 h12 M928,944 h11" stroke="#111" stroke-width="2"/>
<g clip-path="url(#cE2)"><g filter="url(#fldE2)">
<rect x="989.5" y="684.3" width="299.79999999999995" height="264.5" fill="#7a7a7a"/>
<polygon points="989.5,684.3 1040.0,684.3 1040.0,809.4 989.5,809.4" fill="#7e7e7e" />
<polygon points="1040.0,684.3 1090.0,684.3 1090.0,809.4 1040.0,809.4" fill="url(#e2u)" />
<polygon points="1230.0,684.3 1289.3,684.3 1289.3,809.4 1230.0,809.4" fill="#7d7d7d" />
<polygon points="989.5,809.4 1031.0,809.4 1054.0,948.8 989.5,948.8" fill="#878787" />
<polygon points="1012.0,809.4 1031.0,809.4 1054.0,948.8 1034.0,948.8" fill="url(#e2yw)" />
<polygon points="1030.0,809.4 1035.5,809.4 1057.5,948.8 1052.0,948.8" fill="#b8b8b8" />
<polygon points="1036.0,809.4 1199.0,809.4 1221.0,948.8 1058.0,948.8" fill="#797979" />
<polygon points="1176.0,809.4 1199.0,809.4 1221.0,948.8 1198.0,948.8" fill="url(#e2bs)" />
<polygon points="1199.0,809.4 1289.3,809.4 1289.3,948.8 1221.0,948.8" fill="#7c7c7c" />
<path d="M1199.5,810.4 L1221,948.8" stroke="#404040" stroke-width="3.4"/>
</g></g>
<rect x="989.5" y="684.3" width="299.79999999999995" height="264.5" fill="none" stroke="#555" stroke-width="1.6"/>
<line x1="990.5" x2="1288.3" y1="810.4" y2="810.4" stroke="#ee1f7d" stroke-width="2.8" stroke-dasharray="11 7.5"/>
<line x1="1025" y1="917.5" x2="1131" y2="893" stroke="#f86a5a" stroke-width="2.6"/>
<path d="M1013,914 L1025,918 L1016,927 Z" fill="#f86a5a"/><path d="M1133,884 L1127,893 L1138,897 Z" fill="#f86a5a"/>
<text x="1115.5" y="711.5" font-size="23" fill="#333" font-weight="normal" font-style="italic" text-anchor="start" textLength="133" lengthAdjust="spacingAndGlyphs" >PPLN -retrace</text>
<text x="1218.5" y="934.5" font-size="23.5" fill="#111" font-weight="normal" font-style="normal" text-anchor="start" textLength="59" lengthAdjust="spacingAndGlyphs" >5 µm</text>
<path d="M1235,944.5 h12 M1260,944.5 h11" stroke="#111" stroke-width="2"/>
<rect x="1306.8" y="706" width="4.9" height="241.7" fill="url(#cbe)"/>
<text x="1307.8" y="691.6" font-size="16.5" fill="#111" font-weight="normal" font-style="normal" text-anchor="start" textLength="16.5" lengthAdjust="spacingAndGlyphs" >fA</text>
<text x="1320.2" y="747.7" font-size="17.5" fill="#222" font-weight="normal" font-style="normal" text-anchor="start" textLength="30.599999999999998" lengthAdjust="spacingAndGlyphs" >500</text>
<text x="1320.2" y="779.4" font-size="17.5" fill="#222" font-weight="normal" font-style="normal" text-anchor="start" textLength="30.599999999999998" lengthAdjust="spacingAndGlyphs" >300</text>
<text x="1326.0" y="834.0" font-size="17.5" fill="#222" font-weight="normal" font-style="normal" text-anchor="start" textLength="10.2" lengthAdjust="spacingAndGlyphs" >0</text>
<text x="1317.3" y="885.8" font-size="17.5" fill="#222" font-weight="normal" font-style="normal" text-anchor="start" textLength="36.599999999999994" lengthAdjust="spacingAndGlyphs" >-300</text>
<text x="1317.3" y="917.5" font-size="17.5" fill="#222" font-weight="normal" font-style="normal" text-anchor="start" textLength="36.599999999999994" lengthAdjust="spacingAndGlyphs" >-500</text>
</svg>
</body></html>
